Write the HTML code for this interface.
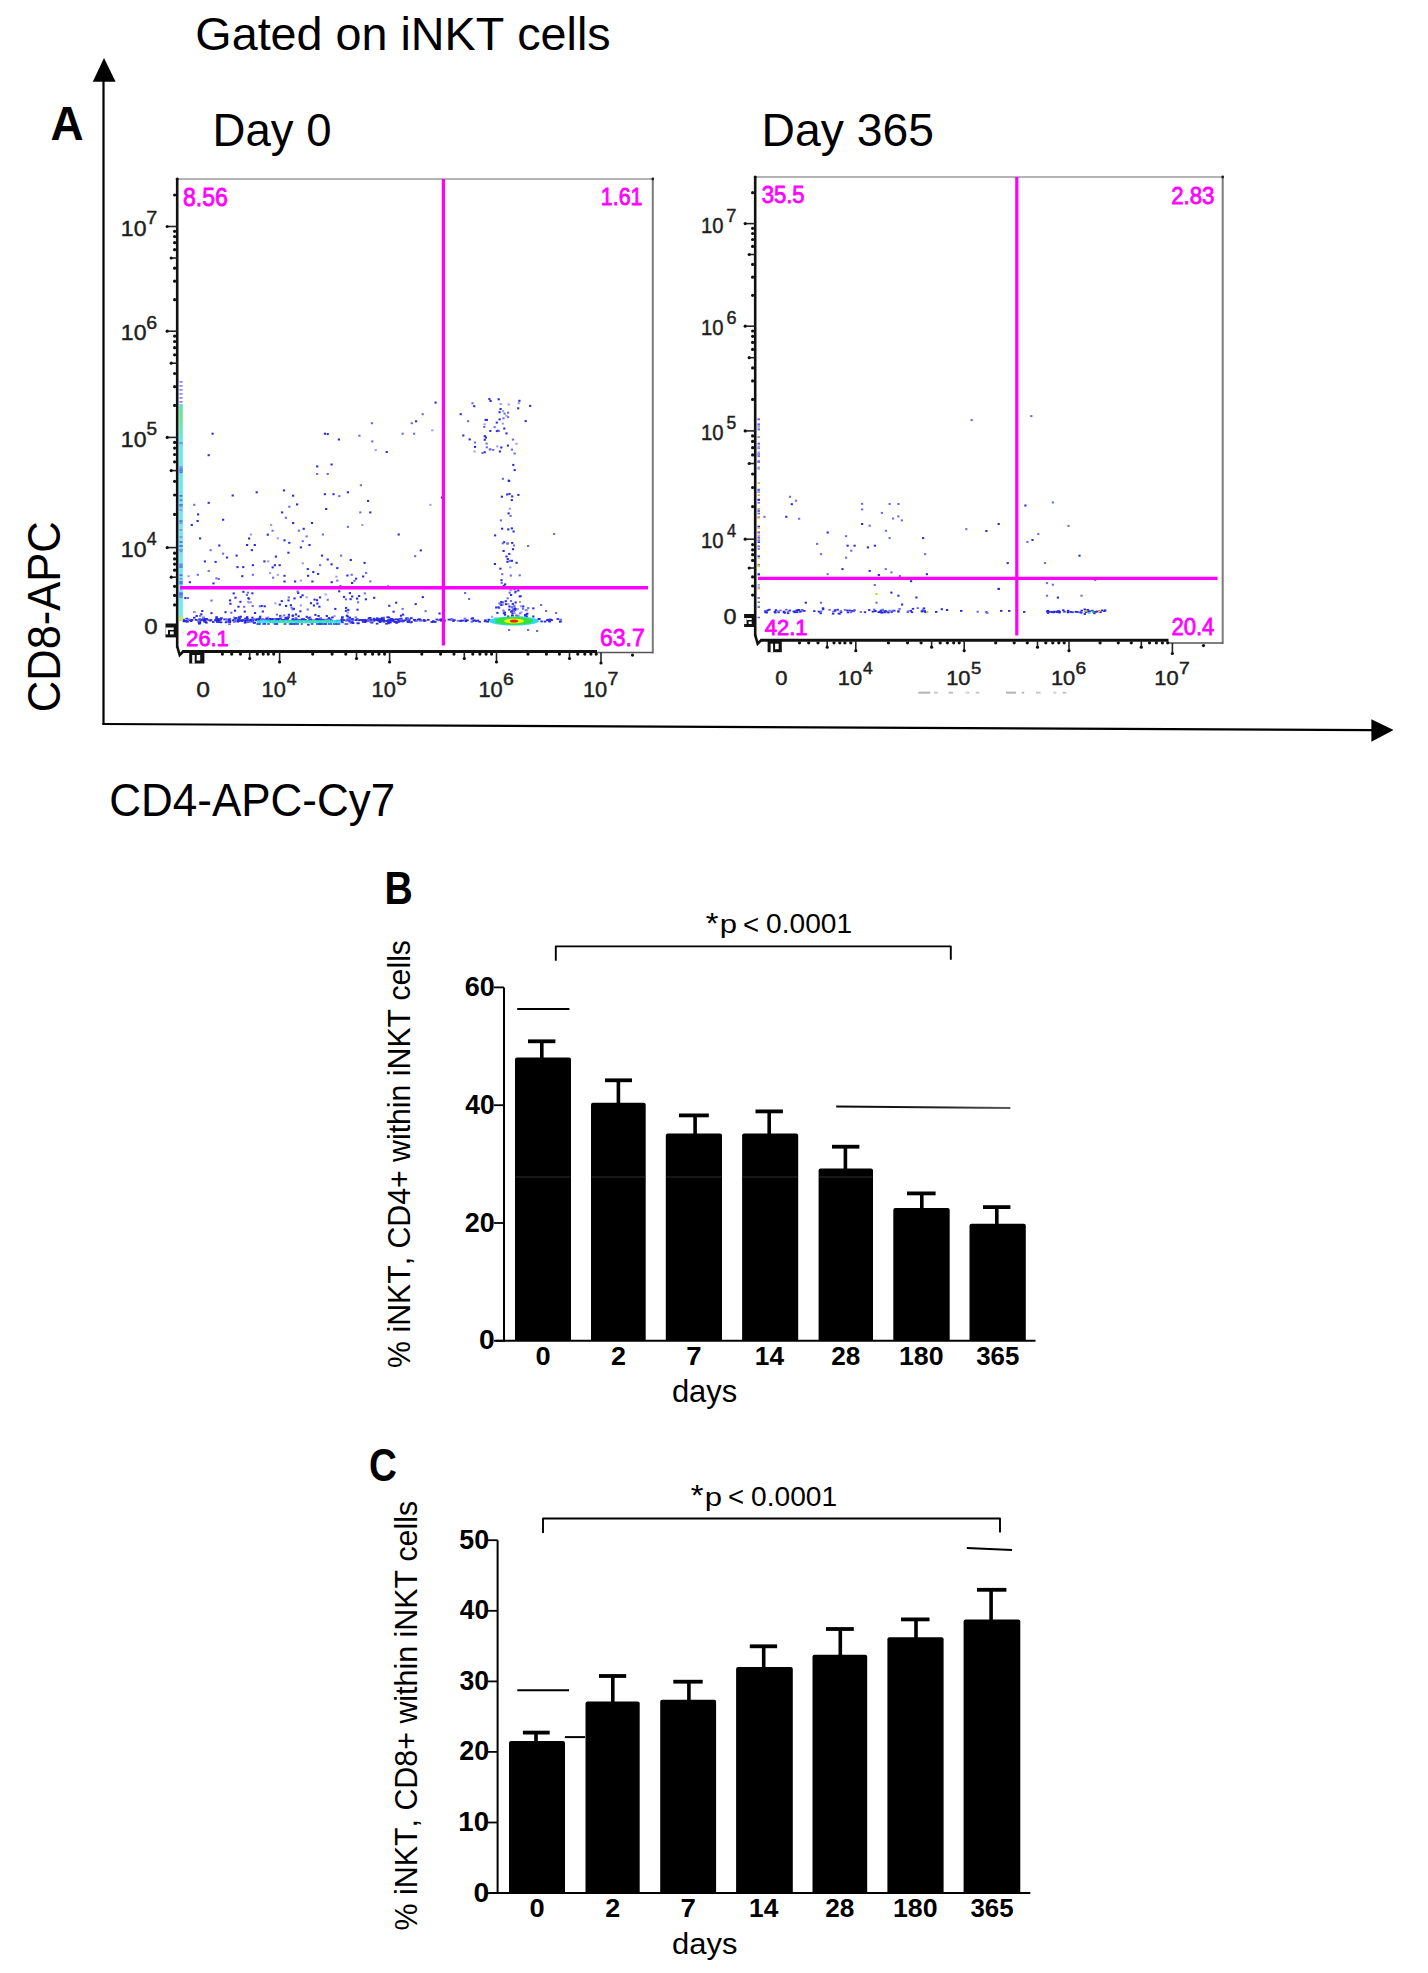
<!DOCTYPE html>
<html><head><meta charset="utf-8"><title>iNKT cells figure</title>
<style>
html,body{margin:0;padding:0;background:#fff;}
body{width:1428px;height:1973px;overflow:hidden;}
svg{display:block;font-family:"Liberation Sans",sans-serif;font-kerning:none;}
text{font-kerning:none;}
</style></head>
<body>
<svg width="1428" height="1973" viewBox="0 0 1428 1973">
<defs>
<linearGradient id="vstrip" x1="0" y1="0" x2="0" y2="1">
<stop offset="0" stop-color="#70d8c8"/><stop offset="0.05" stop-color="#68e890"/><stop offset="0.12" stop-color="#68e8b8"/>
<stop offset="0.16" stop-color="#60e8f0"/><stop offset="0.8" stop-color="#70e8f4"/><stop offset="1" stop-color="#60f0f0"/>
</linearGradient>
<linearGradient id="sigB" gradientUnits="userSpaceOnUse" x1="836" y1="0" x2="1010" y2="0">
<stop offset="0" stop-color="#080808"/><stop offset="0.6" stop-color="#222"/><stop offset="1" stop-color="#5a5a5a"/></linearGradient>
<filter id="blur1" x="-20%" y="-50%" width="140%" height="200%"><feGaussianBlur stdDeviation="0.7"/></filter></defs>
<rect width="1428" height="1973" fill="#fff"/>
<text transform="translate(195.35,50.00) scale(1.0065,1)" font-size="46.40" font-weight="normal" fill="#000" >Gated on iNKT cells</text>
<text transform="translate(50.46,140.30) scale(0.9718,1)" font-size="47.24" font-weight="bold" fill="#000" >A</text>
<text transform="translate(212.57,145.70) scale(0.9787,1)" font-size="46.51" font-weight="normal" fill="#000" >Day 0</text>
<text transform="translate(761.60,145.50) scale(0.9886,1)" font-size="46.80" font-weight="normal" fill="#000" >Day 365</text>
<text transform="translate(59.50,712.21) rotate(-90) scale(0.9351,1)" font-size="46.55" font-weight="normal" fill="#000">CD8-APC</text>
<text transform="translate(109.37,816.20) scale(0.9447,1)" font-size="46.55" font-weight="normal" fill="#000" >CD4-APC-Cy7</text>
<line x1="103.5" y1="80" x2="103.5" y2="724.5" stroke="#000" stroke-width="2.2"/>
<polygon points="104,58 92.8,81.8 115.6,81.8" fill="#000"/>
<line x1="102.4" y1="724" x2="1373" y2="730.1" stroke="#000" stroke-width="2.2"/>
<polygon points="1371.4,719.2 1371.4,741.8 1393.6,730.1" fill="#000"/>
<line x1="177.2" y1="179" x2="652.8" y2="179" stroke="#9a9a9a" stroke-width="1.6"/>
<line x1="652.8" y1="179" x2="652.8" y2="653.5" stroke="#7a7a7a" stroke-width="2"/>
<circle cx="652.8" cy="179" r="1.4" fill="#222"/>
<circle cx="177.2" cy="179" r="1.5" fill="#111"/>
<line x1="597" y1="652.5" x2="652.8" y2="652.5" stroke="#555" stroke-width="1.6"/>
<line x1="182.2" y1="651.5" x2="597" y2="651.5" stroke="#111" stroke-width="3"/>
<line x1="177.2" y1="178.5" x2="177.2" y2="647.5" stroke="#111" stroke-width="2.6"/>
<line x1="167.2" y1="226.5" x2="177.2" y2="226.5" stroke="#222" stroke-width="1.6"/>
<circle cx="167.2" cy="226.5" r="1.6" fill="#111"/>
<line x1="167.2" y1="331.2" x2="177.2" y2="331.2" stroke="#222" stroke-width="1.6"/>
<circle cx="167.2" cy="331.2" r="1.6" fill="#111"/>
<line x1="167.2" y1="437.4" x2="177.2" y2="437.4" stroke="#222" stroke-width="1.6"/>
<circle cx="167.2" cy="437.4" r="1.6" fill="#111"/>
<line x1="167.2" y1="547.6" x2="177.2" y2="547.6" stroke="#222" stroke-width="1.6"/>
<circle cx="167.2" cy="547.6" r="1.6" fill="#111"/>
<circle cx="174.6" cy="299.7" r="1.6" fill="#111"/>
<circle cx="174.6" cy="281.2" r="1.6" fill="#111"/>
<circle cx="174.6" cy="268.2" r="1.6" fill="#111"/>
<line x1="171.2" y1="258.0" x2="177.2" y2="258.0" stroke="#222" stroke-width="1.6"/>
<circle cx="171.2" cy="258.0" r="1.6" fill="#111"/>
<circle cx="174.6" cy="249.7" r="1.6" fill="#111"/>
<circle cx="174.6" cy="242.7" r="1.6" fill="#111"/>
<circle cx="174.6" cy="236.6" r="1.6" fill="#111"/>
<circle cx="174.6" cy="231.3" r="1.6" fill="#111"/>
<circle cx="174.6" cy="405.4" r="1.6" fill="#111"/>
<circle cx="174.6" cy="386.7" r="1.6" fill="#111"/>
<circle cx="174.6" cy="373.5" r="1.6" fill="#111"/>
<line x1="171.2" y1="363.2" x2="177.2" y2="363.2" stroke="#222" stroke-width="1.6"/>
<circle cx="171.2" cy="363.2" r="1.6" fill="#111"/>
<circle cx="174.6" cy="354.8" r="1.6" fill="#111"/>
<circle cx="174.6" cy="347.7" r="1.6" fill="#111"/>
<circle cx="174.6" cy="341.5" r="1.6" fill="#111"/>
<circle cx="174.6" cy="336.1" r="1.6" fill="#111"/>
<circle cx="174.6" cy="514.4" r="1.6" fill="#111"/>
<circle cx="174.6" cy="495.0" r="1.6" fill="#111"/>
<circle cx="174.6" cy="481.3" r="1.6" fill="#111"/>
<line x1="171.2" y1="470.6" x2="177.2" y2="470.6" stroke="#222" stroke-width="1.6"/>
<circle cx="171.2" cy="470.6" r="1.6" fill="#111"/>
<circle cx="174.6" cy="461.8" r="1.6" fill="#111"/>
<circle cx="174.6" cy="454.5" r="1.6" fill="#111"/>
<circle cx="174.6" cy="448.1" r="1.6" fill="#111"/>
<circle cx="174.6" cy="442.4" r="1.6" fill="#111"/>
<circle cx="174.6" cy="195.0" r="1.6" fill="#111"/>
<circle cx="174.6" cy="553.2" r="1.6" fill="#111"/>
<circle cx="174.6" cy="558.9" r="1.6" fill="#111"/>
<circle cx="174.6" cy="564.1" r="1.6" fill="#111"/>
<circle cx="174.6" cy="570.2" r="1.6" fill="#111"/>
<circle cx="174.6" cy="586.3" r="1.6" fill="#111"/>
<circle cx="174.6" cy="595.4" r="1.6" fill="#111"/>
<circle cx="174.6" cy="604.9" r="1.6" fill="#111"/>
<line x1="171.2" y1="577.2" x2="177.2" y2="577.2" stroke="#222" stroke-width="1.6"/>
<circle cx="171.2" cy="577.2" r="1.6" fill="#111"/>
<rect x="165.5" y="623.5" width="11.699999999999989" height="13.899999999999977" fill="#111"/>
<rect x="168.0" y="627.5" width="5.699999999999989" height="2.4" fill="#fff"/>
<rect x="170.0" y="631.5" width="3.6999999999999886" height="2.9" fill="#fff"/>
<rect x="165.5" y="627.5" width="2.5" height="6.9" fill="#fff"/>
<path d="M177.2,646.5 L179.7,655.0 L183.2,651.5" fill="none" stroke="#111" stroke-width="2.6"/>
<line x1="279.6" y1="651.5" x2="279.6" y2="662.0" stroke="#222" stroke-width="1.6"/>
<circle cx="279.6" cy="662.0" r="1.6" fill="#111"/>
<line x1="389.6" y1="651.5" x2="389.6" y2="662.0" stroke="#222" stroke-width="1.6"/>
<circle cx="389.6" cy="662.0" r="1.6" fill="#111"/>
<line x1="496.5" y1="651.5" x2="496.5" y2="662.0" stroke="#222" stroke-width="1.6"/>
<circle cx="496.5" cy="662.0" r="1.6" fill="#111"/>
<line x1="601.0" y1="652.5" x2="601.0" y2="663.0" stroke="#222" stroke-width="1.6"/>
<circle cx="601.0" cy="663.0" r="1.6" fill="#111"/>
<circle cx="312.7" cy="654.1" r="1.6" fill="#111"/>
<circle cx="332.1" cy="654.1" r="1.6" fill="#111"/>
<circle cx="345.8" cy="654.1" r="1.6" fill="#111"/>
<line x1="356.5" y1="651.5" x2="356.5" y2="658.5" stroke="#222" stroke-width="1.6"/>
<circle cx="356.5" cy="658.5" r="1.6" fill="#111"/>
<circle cx="365.2" cy="654.1" r="1.6" fill="#111"/>
<circle cx="372.6" cy="654.1" r="1.6" fill="#111"/>
<circle cx="378.9" cy="654.1" r="1.6" fill="#111"/>
<circle cx="384.6" cy="654.1" r="1.6" fill="#111"/>
<circle cx="421.8" cy="654.1" r="1.6" fill="#111"/>
<circle cx="440.6" cy="654.1" r="1.6" fill="#111"/>
<circle cx="454.0" cy="654.1" r="1.6" fill="#111"/>
<line x1="464.3" y1="651.5" x2="464.3" y2="658.5" stroke="#222" stroke-width="1.6"/>
<circle cx="464.3" cy="658.5" r="1.6" fill="#111"/>
<circle cx="472.8" cy="654.1" r="1.6" fill="#111"/>
<circle cx="479.9" cy="654.1" r="1.6" fill="#111"/>
<circle cx="486.1" cy="654.1" r="1.6" fill="#111"/>
<circle cx="491.6" cy="654.1" r="1.6" fill="#111"/>
<circle cx="528.0" cy="654.1" r="1.6" fill="#111"/>
<circle cx="546.4" cy="654.1" r="1.6" fill="#111"/>
<circle cx="559.4" cy="654.1" r="1.6" fill="#111"/>
<line x1="569.5" y1="651.5" x2="569.5" y2="658.5" stroke="#222" stroke-width="1.6"/>
<circle cx="569.5" cy="658.5" r="1.6" fill="#111"/>
<circle cx="577.8" cy="654.1" r="1.6" fill="#111"/>
<circle cx="584.8" cy="654.1" r="1.6" fill="#111"/>
<circle cx="590.9" cy="654.1" r="1.6" fill="#111"/>
<circle cx="596.2" cy="654.1" r="1.6" fill="#111"/>
<circle cx="632.5" cy="655.1" r="1.6" fill="#111"/>
<circle cx="222.4" cy="654.1" r="1.6" fill="#111"/>
<circle cx="231.7" cy="654.1" r="1.6" fill="#111"/>
<circle cx="240.5" cy="654.1" r="1.6" fill="#111"/>
<circle cx="257.3" cy="654.1" r="1.6" fill="#111"/>
<circle cx="263.2" cy="654.1" r="1.6" fill="#111"/>
<circle cx="268.2" cy="654.1" r="1.6" fill="#111"/>
<circle cx="273.7" cy="654.1" r="1.6" fill="#111"/>
<line x1="249.7" y1="651.5" x2="249.7" y2="658.5" stroke="#222" stroke-width="1.6"/>
<circle cx="249.7" cy="658.5" r="1.6" fill="#111"/>
<rect x="189.2" y="651.5" width="15.200000000000017" height="12.0" fill="#111"/>
<rect x="192.2" y="655.0" width="2.5" height="8.5" fill="#fff"/>
<rect x="196.7" y="655.0" width="3.5" height="5.5" fill="#fff"/>
<line x1="755.2" y1="177" x2="1222.7" y2="177" stroke="#9a9a9a" stroke-width="1.6"/>
<line x1="1222.7" y1="177" x2="1222.7" y2="644" stroke="#7a7a7a" stroke-width="2"/>
<circle cx="1222.7" cy="177" r="1.4" fill="#222"/>
<circle cx="755.2" cy="177" r="1.5" fill="#111"/>
<line x1="1168.5" y1="643" x2="1222.7" y2="643" stroke="#555" stroke-width="1.6"/>
<line x1="760.2" y1="640.2" x2="1168.5" y2="640.2" stroke="#111" stroke-width="3"/>
<line x1="755.2" y1="176.5" x2="755.2" y2="636.2" stroke="#111" stroke-width="2.6"/>
<line x1="745.2" y1="223.6" x2="755.2" y2="223.6" stroke="#222" stroke-width="1.6"/>
<circle cx="745.2" cy="223.6" r="1.6" fill="#111"/>
<line x1="745.2" y1="326.2" x2="755.2" y2="326.2" stroke="#222" stroke-width="1.6"/>
<circle cx="745.2" cy="326.2" r="1.6" fill="#111"/>
<line x1="745.2" y1="430.9" x2="755.2" y2="430.9" stroke="#222" stroke-width="1.6"/>
<circle cx="745.2" cy="430.9" r="1.6" fill="#111"/>
<line x1="745.2" y1="539.2" x2="755.2" y2="539.2" stroke="#222" stroke-width="1.6"/>
<circle cx="745.2" cy="539.2" r="1.6" fill="#111"/>
<circle cx="752.6" cy="295.3" r="1.6" fill="#111"/>
<circle cx="752.6" cy="277.2" r="1.6" fill="#111"/>
<circle cx="752.6" cy="264.4" r="1.6" fill="#111"/>
<line x1="749.2" y1="254.5" x2="755.2" y2="254.5" stroke="#222" stroke-width="1.6"/>
<circle cx="749.2" cy="254.5" r="1.6" fill="#111"/>
<circle cx="752.6" cy="246.4" r="1.6" fill="#111"/>
<circle cx="752.6" cy="239.5" r="1.6" fill="#111"/>
<circle cx="752.6" cy="233.5" r="1.6" fill="#111"/>
<circle cx="752.6" cy="228.3" r="1.6" fill="#111"/>
<circle cx="752.6" cy="399.4" r="1.6" fill="#111"/>
<circle cx="752.6" cy="380.9" r="1.6" fill="#111"/>
<circle cx="752.6" cy="367.9" r="1.6" fill="#111"/>
<line x1="749.2" y1="357.7" x2="755.2" y2="357.7" stroke="#222" stroke-width="1.6"/>
<circle cx="749.2" cy="357.7" r="1.6" fill="#111"/>
<circle cx="752.6" cy="349.4" r="1.6" fill="#111"/>
<circle cx="752.6" cy="342.4" r="1.6" fill="#111"/>
<circle cx="752.6" cy="336.3" r="1.6" fill="#111"/>
<circle cx="752.6" cy="331.0" r="1.6" fill="#111"/>
<circle cx="752.6" cy="506.6" r="1.6" fill="#111"/>
<circle cx="752.6" cy="487.5" r="1.6" fill="#111"/>
<circle cx="752.6" cy="474.0" r="1.6" fill="#111"/>
<line x1="749.2" y1="463.5" x2="755.2" y2="463.5" stroke="#222" stroke-width="1.6"/>
<circle cx="749.2" cy="463.5" r="1.6" fill="#111"/>
<circle cx="752.6" cy="454.9" r="1.6" fill="#111"/>
<circle cx="752.6" cy="447.7" r="1.6" fill="#111"/>
<circle cx="752.6" cy="441.4" r="1.6" fill="#111"/>
<circle cx="752.6" cy="435.9" r="1.6" fill="#111"/>
<circle cx="752.6" cy="192.7" r="1.6" fill="#111"/>
<circle cx="752.6" cy="544.6" r="1.6" fill="#111"/>
<circle cx="752.6" cy="549.8" r="1.6" fill="#111"/>
<circle cx="752.6" cy="554.7" r="1.6" fill="#111"/>
<circle cx="752.6" cy="560.4" r="1.6" fill="#111"/>
<circle cx="752.6" cy="576.9" r="1.6" fill="#111"/>
<circle cx="752.6" cy="586.0" r="1.6" fill="#111"/>
<circle cx="752.6" cy="595.1" r="1.6" fill="#111"/>
<line x1="749.2" y1="568.0" x2="755.2" y2="568.0" stroke="#222" stroke-width="1.6"/>
<circle cx="749.2" cy="568.0" r="1.6" fill="#111"/>
<rect x="744.1" y="614" width="11.100000000000023" height="13" fill="#111"/>
<rect x="746.6" y="618" width="5.100000000000023" height="2.0" fill="#fff"/>
<rect x="748.6" y="621.5" width="3.1000000000000227" height="2.5" fill="#fff"/>
<rect x="744.1" y="618" width="2.5" height="6.0" fill="#fff"/>
<path d="M755.2,635.2 L757.7,643.7 L761.2,640.2" fill="none" stroke="#111" stroke-width="2.6"/>
<line x1="855.8" y1="640.2" x2="855.8" y2="650.7" stroke="#222" stroke-width="1.6"/>
<circle cx="855.8" cy="650.7" r="1.6" fill="#111"/>
<line x1="964.2" y1="640.2" x2="964.2" y2="650.7" stroke="#222" stroke-width="1.6"/>
<circle cx="964.2" cy="650.7" r="1.6" fill="#111"/>
<line x1="1069.0" y1="640.2" x2="1069.0" y2="650.7" stroke="#222" stroke-width="1.6"/>
<circle cx="1069.0" cy="650.7" r="1.6" fill="#111"/>
<line x1="1172.4" y1="643" x2="1172.4" y2="653.5" stroke="#222" stroke-width="1.6"/>
<circle cx="1172.4" cy="653.5" r="1.6" fill="#111"/>
<circle cx="888.4" cy="642.8" r="1.6" fill="#111"/>
<circle cx="907.5" cy="642.8" r="1.6" fill="#111"/>
<circle cx="921.1" cy="642.8" r="1.6" fill="#111"/>
<line x1="931.6" y1="640.2" x2="931.6" y2="647.2" stroke="#222" stroke-width="1.6"/>
<circle cx="931.6" cy="647.2" r="1.6" fill="#111"/>
<circle cx="940.2" cy="642.8" r="1.6" fill="#111"/>
<circle cx="947.4" cy="642.8" r="1.6" fill="#111"/>
<circle cx="953.7" cy="642.8" r="1.6" fill="#111"/>
<circle cx="959.2" cy="642.8" r="1.6" fill="#111"/>
<circle cx="995.7" cy="642.8" r="1.6" fill="#111"/>
<circle cx="1014.2" cy="642.8" r="1.6" fill="#111"/>
<circle cx="1027.3" cy="642.8" r="1.6" fill="#111"/>
<line x1="1037.5" y1="640.2" x2="1037.5" y2="647.2" stroke="#222" stroke-width="1.6"/>
<circle cx="1037.5" cy="647.2" r="1.6" fill="#111"/>
<circle cx="1045.8" cy="642.8" r="1.6" fill="#111"/>
<circle cx="1052.8" cy="642.8" r="1.6" fill="#111"/>
<circle cx="1058.8" cy="642.8" r="1.6" fill="#111"/>
<circle cx="1064.2" cy="642.8" r="1.6" fill="#111"/>
<circle cx="1100.1" cy="642.8" r="1.6" fill="#111"/>
<circle cx="1118.3" cy="642.8" r="1.6" fill="#111"/>
<circle cx="1131.3" cy="642.8" r="1.6" fill="#111"/>
<line x1="1141.3" y1="640.2" x2="1141.3" y2="647.2" stroke="#222" stroke-width="1.6"/>
<circle cx="1141.3" cy="647.2" r="1.6" fill="#111"/>
<circle cx="1149.5" cy="642.8" r="1.6" fill="#111"/>
<circle cx="1156.4" cy="642.8" r="1.6" fill="#111"/>
<circle cx="1162.4" cy="642.8" r="1.6" fill="#111"/>
<circle cx="1167.7" cy="642.8" r="1.6" fill="#111"/>
<circle cx="1203.5" cy="645.6" r="1.6" fill="#111"/>
<circle cx="799.5" cy="642.8" r="1.6" fill="#111"/>
<circle cx="808.7" cy="642.8" r="1.6" fill="#111"/>
<circle cx="818.0" cy="642.8" r="1.6" fill="#111"/>
<circle cx="834.0" cy="642.8" r="1.6" fill="#111"/>
<circle cx="839.8" cy="642.8" r="1.6" fill="#111"/>
<circle cx="844.9" cy="642.8" r="1.6" fill="#111"/>
<circle cx="850.8" cy="642.8" r="1.6" fill="#111"/>
<line x1="827.2" y1="640.2" x2="827.2" y2="647.2" stroke="#222" stroke-width="1.6"/>
<circle cx="827.2" cy="647.2" r="1.6" fill="#111"/>
<rect x="767.6" y="640.2" width="14.199999999999932" height="12.0" fill="#111"/>
<rect x="770.6" y="643.7" width="2.5" height="8.5" fill="#fff"/>
<rect x="775.1" y="643.7" width="3.5" height="5.5" fill="#fff"/>
<text transform="translate(120.84,235.70) scale(1.0305,1)" font-size="22.38" font-weight="normal" fill="#1e1e1e" stroke="#1e1e1e" stroke-width="0.45">10</text><text transform="translate(146.18,224.30) scale(1.0810,1)" font-size="18.31" font-weight="normal" fill="#1e1e1e" stroke="#1e1e1e" stroke-width="0.45">7</text>
<text transform="translate(120.84,340.40) scale(1.0305,1)" font-size="22.38" font-weight="normal" fill="#1e1e1e" stroke="#1e1e1e" stroke-width="0.45">10</text><text transform="translate(146.21,329.00) scale(1.0809,1)" font-size="18.05" font-weight="normal" fill="#1e1e1e" stroke="#1e1e1e" stroke-width="0.45">6</text>
<text transform="translate(120.84,446.60) scale(1.0305,1)" font-size="22.38" font-weight="normal" fill="#1e1e1e" stroke="#1e1e1e" stroke-width="0.45">10</text><text transform="translate(146.44,435.20) scale(1.0365,1)" font-size="18.31" font-weight="normal" fill="#1e1e1e" stroke="#1e1e1e" stroke-width="0.45">5</text>
<text transform="translate(120.84,556.80) scale(1.0305,1)" font-size="22.38" font-weight="normal" fill="#1e1e1e" stroke="#1e1e1e" stroke-width="0.45">10</text><text transform="translate(146.79,545.40) scale(0.9752,1)" font-size="18.31" font-weight="normal" fill="#1e1e1e" stroke="#1e1e1e" stroke-width="0.45">4</text>
<text transform="translate(144.36,633.70) scale(1.0837,1)" font-size="22.20" font-weight="normal" fill="#1e1e1e" stroke="#1e1e1e" stroke-width="0.45">0</text>
<text transform="translate(700.96,232.70) scale(0.9292,1)" font-size="21.80" font-weight="normal" fill="#1e1e1e" stroke="#1e1e1e" stroke-width="0.45">10</text><text transform="translate(726.36,221.80) scale(0.9891,1)" font-size="18.46" font-weight="normal" fill="#1e1e1e" stroke="#1e1e1e" stroke-width="0.45">7</text>
<text transform="translate(700.96,335.30) scale(0.9292,1)" font-size="21.80" font-weight="normal" fill="#1e1e1e" stroke="#1e1e1e" stroke-width="0.45">10</text><text transform="translate(726.39,324.40) scale(0.9890,1)" font-size="18.19" font-weight="normal" fill="#1e1e1e" stroke="#1e1e1e" stroke-width="0.45">6</text>
<text transform="translate(700.96,440.00) scale(0.9292,1)" font-size="21.80" font-weight="normal" fill="#1e1e1e" stroke="#1e1e1e" stroke-width="0.45">10</text><text transform="translate(726.60,429.10) scale(0.9483,1)" font-size="18.46" font-weight="normal" fill="#1e1e1e" stroke="#1e1e1e" stroke-width="0.45">5</text>
<text transform="translate(700.96,548.30) scale(0.9292,1)" font-size="21.80" font-weight="normal" fill="#1e1e1e" stroke="#1e1e1e" stroke-width="0.45">10</text><text transform="translate(726.92,537.40) scale(0.8923,1)" font-size="18.46" font-weight="normal" fill="#1e1e1e" stroke="#1e1e1e" stroke-width="0.45">4</text>
<text transform="translate(723.48,624.30) scale(1.0555,1)" font-size="22.20" font-weight="normal" fill="#1e1e1e" stroke="#1e1e1e" stroke-width="0.45">0</text>
<text transform="translate(261.53,697.10) scale(0.9705,1)" font-size="22.53" font-weight="normal" fill="#1e1e1e" stroke="#1e1e1e" stroke-width="0.45">10</text><text transform="translate(286.69,684.50) scale(1.0042,1)" font-size="17.59" font-weight="normal" fill="#1e1e1e" stroke="#1e1e1e" stroke-width="0.45">4</text>
<text transform="translate(371.53,697.10) scale(0.9705,1)" font-size="22.53" font-weight="normal" fill="#1e1e1e" stroke="#1e1e1e" stroke-width="0.45">10</text><text transform="translate(396.35,684.50) scale(1.0673,1)" font-size="17.59" font-weight="normal" fill="#1e1e1e" stroke="#1e1e1e" stroke-width="0.45">5</text>
<text transform="translate(478.43,697.10) scale(0.9705,1)" font-size="22.53" font-weight="normal" fill="#1e1e1e" stroke="#1e1e1e" stroke-width="0.45">10</text><text transform="translate(503.02,684.50) scale(1.1130,1)" font-size="17.33" font-weight="normal" fill="#1e1e1e" stroke="#1e1e1e" stroke-width="0.45">6</text>
<text transform="translate(582.93,697.10) scale(0.9705,1)" font-size="22.53" font-weight="normal" fill="#1e1e1e" stroke="#1e1e1e" stroke-width="0.45">10</text><text transform="translate(607.50,684.50) scale(1.1132,1)" font-size="17.59" font-weight="normal" fill="#1e1e1e" stroke="#1e1e1e" stroke-width="0.45">7</text>
<text transform="translate(196.24,697.10) scale(1.0840,1)" font-size="22.77" font-weight="normal" fill="#1e1e1e" stroke="#1e1e1e" stroke-width="0.45">0</text>
<text transform="translate(837.73,685.20) scale(1.0446,1)" font-size="20.93" font-weight="normal" fill="#1e1e1e" stroke="#1e1e1e" stroke-width="0.45">10</text><text transform="translate(862.90,674.00) scale(1.0727,1)" font-size="16.28" font-weight="normal" fill="#1e1e1e" stroke="#1e1e1e" stroke-width="0.45">4</text>
<text transform="translate(946.13,685.20) scale(1.0446,1)" font-size="20.93" font-weight="normal" fill="#1e1e1e" stroke="#1e1e1e" stroke-width="0.45">10</text><text transform="translate(970.96,674.00) scale(1.1401,1)" font-size="16.28" font-weight="normal" fill="#1e1e1e" stroke="#1e1e1e" stroke-width="0.45">5</text>
<text transform="translate(1050.93,685.20) scale(1.0446,1)" font-size="20.93" font-weight="normal" fill="#1e1e1e" stroke="#1e1e1e" stroke-width="0.45">10</text><text transform="translate(1075.53,674.00) scale(1.1890,1)" font-size="16.04" font-weight="normal" fill="#1e1e1e" stroke="#1e1e1e" stroke-width="0.45">6</text>
<text transform="translate(1154.33,685.20) scale(1.0446,1)" font-size="20.93" font-weight="normal" fill="#1e1e1e" stroke="#1e1e1e" stroke-width="0.45">10</text><text transform="translate(1178.91,674.00) scale(1.1891,1)" font-size="16.28" font-weight="normal" fill="#1e1e1e" stroke="#1e1e1e" stroke-width="0.45">7</text>
<text transform="translate(775.14,684.80) scale(1.1114,1)" font-size="19.76" font-weight="normal" fill="#1e1e1e" stroke="#1e1e1e" stroke-width="0.45">0</text>
<g><rect x="918.3" y="691.7" width="12.0" height="2" fill="#b4b4b4"/><rect x="934" y="691.7" width="3.8" height="2" fill="#c8c8c8"/><rect x="948.5" y="691.7" width="4.5" height="2" fill="#c0c0c0"/><rect x="965.6" y="691.7" width="3.8" height="2" fill="#d0d0d0"/><rect x="975.7" y="691.7" width="3.7" height="2" fill="#c8c8c8"/><rect x="1006" y="691.7" width="10.0" height="2" fill="#b4b4b4"/><rect x="1021.7" y="691.7" width="2.5" height="2" fill="#bcbcbc"/><rect x="1036" y="691.7" width="4.6" height="2" fill="#c8c8c8"/><rect x="1053.2" y="691.7" width="3.2" height="2" fill="#d0d0d0"/><rect x="1062.7" y="691.7" width="3.7" height="2" fill="#c8c8c8"/></g>
<g><rect x="211.5" y="432.7" width="2.2" height="2.0" fill="#2a2ae0"/><rect x="207.6" y="454.2" width="2.2" height="2.0" fill="#2a2ae0"/><rect x="193.2" y="503.8" width="2.2" height="2.0" fill="#6a6aee"/><rect x="207.6" y="501.8" width="2.2" height="2.0" fill="#2a2ae0"/><rect x="197.0" y="513.4" width="2.2" height="2.0" fill="#2a2ae0"/><rect x="196.5" y="520.0" width="2.2" height="2.0" fill="#2a2ae0"/><rect x="190.7" y="524.0" width="2.2" height="2.0" fill="#2a2ae0"/><rect x="199.0" y="537.4" width="2.2" height="2.0" fill="#2a2ae0"/><rect x="222.0" y="518.7" width="2.2" height="2.0" fill="#2a2ae0"/><rect x="231.6" y="494.5" width="2.2" height="2.0" fill="#2a2ae0"/><rect x="255.6" y="491.3" width="2.2" height="2.0" fill="#2a2ae0"/><rect x="282.9" y="489.4" width="2.2" height="2.0" fill="#2a2ae0"/><rect x="292.0" y="494.7" width="2.2" height="2.0" fill="#2a2ae0"/><rect x="288.2" y="505.7" width="2.2" height="2.0" fill="#6a6aee"/><rect x="296.0" y="503.4" width="2.2" height="2.0" fill="#2a2ae0"/><rect x="281.0" y="511.4" width="2.2" height="2.0" fill="#2a2ae0"/><rect x="284.8" y="516.8" width="2.2" height="2.0" fill="#6a6aee"/><rect x="270.0" y="524.0" width="2.2" height="2.0" fill="#9c9cf2"/><rect x="271.5" y="529.7" width="2.2" height="2.0" fill="#6a6aee"/><rect x="266.7" y="533.7" width="2.2" height="2.0" fill="#2a2ae0"/><rect x="249.9" y="533.5" width="2.2" height="2.0" fill="#9c9cf2"/><rect x="248.0" y="537.5" width="2.2" height="2.0" fill="#2a2ae0"/><rect x="276.7" y="537.3" width="2.2" height="2.0" fill="#9c9cf2"/><rect x="283.4" y="539.3" width="2.2" height="2.0" fill="#2a2ae0"/><rect x="288.2" y="541.8" width="2.2" height="2.0" fill="#2a2ae0"/><rect x="287.3" y="551.7" width="2.2" height="2.0" fill="#2a2ae0"/><rect x="292.0" y="522.0" width="2.2" height="2.0" fill="#2a2ae0"/><rect x="297.8" y="529.7" width="2.2" height="2.0" fill="#6a6aee"/><rect x="302.6" y="527.8" width="2.2" height="2.0" fill="#2a2ae0"/><rect x="305.5" y="535.4" width="2.2" height="2.0" fill="#6a6aee"/><rect x="301.7" y="540.2" width="2.2" height="2.0" fill="#6a6aee"/><rect x="308.4" y="544.0" width="2.2" height="2.0" fill="#2a2ae0"/><rect x="299.8" y="546.4" width="2.2" height="2.0" fill="#2a2ae0"/><rect x="310.9" y="522.0" width="2.2" height="2.0" fill="#2a2ae0"/><rect x="316.1" y="465.4" width="2.2" height="2.0" fill="#2a2ae0"/><rect x="330.5" y="463.5" width="2.2" height="2.0" fill="#2a2ae0"/><rect x="326.6" y="473.0" width="2.2" height="2.0" fill="#6a6aee"/><rect x="323.8" y="493.2" width="2.2" height="2.0" fill="#2a2ae0"/><rect x="332.4" y="493.2" width="2.2" height="2.0" fill="#2a2ae0"/><rect x="338.2" y="495.1" width="2.2" height="2.0" fill="#6a6aee"/><rect x="346.8" y="491.3" width="2.2" height="2.0" fill="#2a2ae0"/><rect x="325.1" y="508.0" width="2.2" height="2.0" fill="#2a2ae0"/><rect x="321.8" y="533.5" width="2.2" height="2.0" fill="#6a6aee"/><rect x="359.8" y="484.2" width="2.2" height="2.0" fill="#6a6aee"/><rect x="367.0" y="499.9" width="2.2" height="2.0" fill="#2a2ae0"/><rect x="359.2" y="511.4" width="2.2" height="2.0" fill="#6a6aee"/><rect x="369.2" y="511.4" width="2.2" height="2.0" fill="#2a2ae0"/><rect x="361.2" y="524.0" width="2.2" height="2.0" fill="#9c9cf2"/><rect x="346.8" y="525.8" width="2.2" height="2.0" fill="#6a6aee"/><rect x="397.6" y="533.5" width="2.2" height="2.0" fill="#2a2ae0"/><rect x="429.3" y="503.8" width="2.2" height="2.0" fill="#9c9cf2"/><rect x="440.8" y="496.5" width="2.2" height="2.0" fill="#2a2ae0"/><rect x="419.7" y="549.4" width="2.2" height="2.0" fill="#2a2ae0"/><rect x="414.0" y="555.2" width="2.2" height="2.0" fill="#6a6aee"/><rect x="323.8" y="432.7" width="2.2" height="2.0" fill="#2a2ae0"/><rect x="326.6" y="433.1" width="2.2" height="2.0" fill="#2a2ae0"/><rect x="337.8" y="438.5" width="2.2" height="2.0" fill="#2a2ae0"/><rect x="358.3" y="434.7" width="2.2" height="2.0" fill="#6a6aee"/><rect x="370.8" y="422.2" width="2.2" height="2.0" fill="#6a6aee"/><rect x="371.2" y="440.4" width="2.2" height="2.0" fill="#6a6aee"/><rect x="374.6" y="449.1" width="2.2" height="2.0" fill="#9c9cf2"/><rect x="385.6" y="451.0" width="2.2" height="2.0" fill="#2a2ae0"/><rect x="401.5" y="432.7" width="2.2" height="2.0" fill="#6a6aee"/><rect x="413.0" y="432.7" width="2.2" height="2.0" fill="#6a6aee"/><rect x="410.7" y="422.2" width="2.2" height="2.0" fill="#6a6aee"/><rect x="415.0" y="420.3" width="2.2" height="2.0" fill="#2a2ae0"/><rect x="421.6" y="413.2" width="2.2" height="2.0" fill="#6a6aee"/><rect x="431.2" y="429.3" width="2.2" height="2.0" fill="#9c9cf2"/><rect x="434.5" y="401.6" width="2.2" height="2.0" fill="#2a2ae0"/><rect x="316.0" y="473.0" width="2.2" height="2.0" fill="#6a6aee"/><rect x="203.8" y="560.4" width="2.2" height="2.0" fill="#2a2ae0"/><rect x="207.6" y="570.0" width="2.2" height="2.0" fill="#6a6aee"/><rect x="196.7" y="573.8" width="2.2" height="2.0" fill="#6a6aee"/><rect x="187.5" y="575.2" width="2.2" height="2.0" fill="#9c9cf2"/><rect x="222.0" y="552.7" width="2.2" height="2.0" fill="#6a6aee"/><rect x="225.9" y="556.5" width="2.2" height="2.0" fill="#2a2ae0"/><rect x="218.2" y="544.5" width="2.2" height="2.0" fill="#2a2ae0"/><rect x="209.5" y="549.2" width="2.2" height="2.0" fill="#6a6aee"/><rect x="235.5" y="554.6" width="2.2" height="2.0" fill="#2a2ae0"/><rect x="236.4" y="566.1" width="2.2" height="2.0" fill="#2a2ae0"/><rect x="242.2" y="566.1" width="2.2" height="2.0" fill="#2a2ae0"/><rect x="241.2" y="575.2" width="2.2" height="2.0" fill="#2a2ae0"/><rect x="251.8" y="564.2" width="2.2" height="2.0" fill="#2a2ae0"/><rect x="251.8" y="573.8" width="2.2" height="2.0" fill="#6a6aee"/><rect x="246.0" y="544.0" width="2.2" height="2.0" fill="#2a2ae0"/><rect x="253.7" y="544.0" width="2.2" height="2.0" fill="#2a2ae0"/><rect x="263.3" y="560.4" width="2.2" height="2.0" fill="#2a2ae0"/><rect x="267.1" y="560.4" width="2.2" height="2.0" fill="#9c9cf2"/><rect x="273.8" y="564.2" width="2.2" height="2.0" fill="#2a2ae0"/><rect x="278.6" y="564.2" width="2.2" height="2.0" fill="#2a2ae0"/><rect x="274.8" y="555.6" width="2.2" height="2.0" fill="#2a2ae0"/><rect x="269.0" y="571.9" width="2.2" height="2.0" fill="#9c9cf2"/><rect x="272.0" y="576.7" width="2.2" height="2.0" fill="#6a6aee"/><rect x="276.7" y="573.8" width="2.2" height="2.0" fill="#9c9cf2"/><rect x="283.4" y="574.8" width="2.2" height="2.0" fill="#2a2ae0"/><rect x="283.4" y="580.5" width="2.2" height="2.0" fill="#2a2ae0"/><rect x="294.0" y="580.5" width="2.2" height="2.0" fill="#2a2ae0"/><rect x="299.8" y="579.6" width="2.2" height="2.0" fill="#9c9cf2"/><rect x="301.7" y="562.3" width="2.2" height="2.0" fill="#9c9cf2"/><rect x="306.7" y="568.1" width="2.2" height="2.0" fill="#2a2ae0"/><rect x="307.0" y="574.8" width="2.2" height="2.0" fill="#2a2ae0"/><rect x="311.3" y="580.5" width="2.2" height="2.0" fill="#2a2ae0"/><rect x="312.2" y="571.0" width="2.2" height="2.0" fill="#2a2ae0"/><rect x="317.0" y="572.9" width="2.2" height="2.0" fill="#2a2ae0"/><rect x="319.0" y="564.2" width="2.2" height="2.0" fill="#6a6aee"/><rect x="320.9" y="554.6" width="2.2" height="2.0" fill="#2a2ae0"/><rect x="326.6" y="558.5" width="2.2" height="2.0" fill="#2a2ae0"/><rect x="330.5" y="563.3" width="2.2" height="2.0" fill="#2a2ae0"/><rect x="336.2" y="567.1" width="2.2" height="2.0" fill="#2a2ae0"/><rect x="340.0" y="554.6" width="2.2" height="2.0" fill="#6a6aee"/><rect x="335.3" y="575.7" width="2.2" height="2.0" fill="#9c9cf2"/><rect x="336.2" y="579.6" width="2.2" height="2.0" fill="#6a6aee"/><rect x="349.7" y="559.0" width="2.2" height="2.0" fill="#2a2ae0"/><rect x="350.6" y="573.8" width="2.2" height="2.0" fill="#6a6aee"/><rect x="365.0" y="571.9" width="2.2" height="2.0" fill="#6a6aee"/><rect x="351.0" y="582.0" width="2.2" height="2.0" fill="#2a2ae0"/><rect x="387.0" y="584.8" width="2.2" height="2.0" fill="#9c9cf2"/><rect x="330.6" y="581.2" width="2.2" height="2.0" fill="#2a2ae0"/><rect x="214.5" y="560.9" width="2.2" height="2.0" fill="#2a2ae0"/><rect x="188.8" y="581.2" width="2.2" height="2.0" fill="#2a2ae0"/><rect x="271.6" y="566.4" width="2.2" height="2.0" fill="#2a2ae0"/><rect x="346.3" y="574.5" width="2.2" height="2.0" fill="#2a2ae0"/><rect x="215.4" y="577.3" width="2.2" height="2.0" fill="#6a6aee"/><rect x="369.2" y="580.4" width="2.2" height="2.0" fill="#6a6aee"/><rect x="250.8" y="549.1" width="2.2" height="2.0" fill="#2a2ae0"/><rect x="363.5" y="561.9" width="2.2" height="2.0" fill="#2a2ae0"/><rect x="353.3" y="579.9" width="2.2" height="2.0" fill="#6a6aee"/><rect x="355.0" y="577.7" width="2.2" height="2.0" fill="#2a2ae0"/><rect x="217.6" y="578.0" width="2.2" height="2.0" fill="#6a6aee"/><rect x="362.0" y="575.5" width="2.2" height="2.0" fill="#2a2ae0"/><rect x="212.4" y="582.4" width="2.2" height="2.0" fill="#2a2ae0"/><rect x="339.4" y="585.3" width="2.2" height="2.0" fill="#2a2ae0"/><rect x="324.6" y="593.5" width="2.2" height="2.0" fill="#9c9cf2"/><rect x="294.9" y="613.5" width="2.2" height="2.0" fill="#2a2ae0"/><rect x="248.0" y="597.9" width="2.2" height="2.0" fill="#6a6aee"/><rect x="249.9" y="601.3" width="2.2" height="2.0" fill="#9c9cf2"/><rect x="274.3" y="602.4" width="2.2" height="2.0" fill="#9c9cf2"/><rect x="291.5" y="614.8" width="2.2" height="2.0" fill="#2a2ae0"/><rect x="326.6" y="598.8" width="2.2" height="2.0" fill="#6a6aee"/><rect x="299.7" y="604.4" width="2.2" height="2.0" fill="#9c9cf2"/><rect x="297.1" y="592.0" width="2.2" height="2.0" fill="#2a2ae0"/><rect x="239.7" y="615.7" width="2.2" height="2.0" fill="#2a2ae0"/><rect x="438.4" y="612.5" width="2.2" height="2.0" fill="#2a2ae0"/><rect x="316.0" y="599.2" width="2.2" height="2.0" fill="#2a2ae0"/><rect x="296.6" y="590.5" width="2.2" height="2.0" fill="#6a6aee"/><rect x="386.4" y="616.2" width="2.2" height="2.0" fill="#2a2ae0"/><rect x="193.2" y="611.0" width="2.2" height="2.0" fill="#2a2ae0"/><rect x="291.9" y="614.6" width="2.2" height="2.0" fill="#2a2ae0"/><rect x="363.7" y="592.4" width="2.2" height="2.0" fill="#6a6aee"/><rect x="346.7" y="611.6" width="2.2" height="2.0" fill="#9c9cf2"/><rect x="200.2" y="613.3" width="2.2" height="2.0" fill="#2a2ae0"/><rect x="325.7" y="615.0" width="2.2" height="2.0" fill="#2a2ae0"/><rect x="318.9" y="596.4" width="2.2" height="2.0" fill="#2a2ae0"/><rect x="261.7" y="610.5" width="2.2" height="2.0" fill="#2a2ae0"/><rect x="228.9" y="599.4" width="2.2" height="2.0" fill="#2a2ae0"/><rect x="210.4" y="612.1" width="2.2" height="2.0" fill="#2a2ae0"/><rect x="287.4" y="599.4" width="2.2" height="2.0" fill="#2a2ae0"/><rect x="201.2" y="610.0" width="2.2" height="2.0" fill="#2a2ae0"/><rect x="356.0" y="597.6" width="2.2" height="2.0" fill="#2a2ae0"/><rect x="301.5" y="594.3" width="2.2" height="2.0" fill="#2a2ae0"/><rect x="246.1" y="616.1" width="2.2" height="2.0" fill="#2a2ae0"/><rect x="184.3" y="597.1" width="2.2" height="2.0" fill="#2a2ae0"/><rect x="243.1" y="605.8" width="2.2" height="2.0" fill="#6a6aee"/><rect x="344.9" y="609.8" width="2.2" height="2.0" fill="#2a2ae0"/><rect x="242.3" y="590.8" width="2.2" height="2.0" fill="#2a2ae0"/><rect x="345.0" y="606.9" width="2.2" height="2.0" fill="#2a2ae0"/><rect x="312.8" y="604.5" width="2.2" height="2.0" fill="#2a2ae0"/><rect x="373.1" y="596.8" width="2.2" height="2.0" fill="#2a2ae0"/><rect x="306.6" y="608.5" width="2.2" height="2.0" fill="#6a6aee"/><rect x="348.8" y="592.1" width="2.2" height="2.0" fill="#2a2ae0"/><rect x="356.4" y="608.7" width="2.2" height="2.0" fill="#2a2ae0"/><rect x="316.3" y="602.5" width="2.2" height="2.0" fill="#2a2ae0"/><rect x="237.4" y="605.7" width="2.2" height="2.0" fill="#2a2ae0"/><rect x="314.3" y="613.9" width="2.2" height="2.0" fill="#2a2ae0"/><rect x="414.6" y="603.1" width="2.2" height="2.0" fill="#2a2ae0"/><rect x="309.9" y="602.2" width="2.2" height="2.0" fill="#2a2ae0"/><rect x="284.4" y="617.0" width="2.2" height="2.0" fill="#2a2ae0"/><rect x="293.4" y="597.4" width="2.2" height="2.0" fill="#2a2ae0"/><rect x="247.3" y="597.2" width="2.2" height="2.0" fill="#2a2ae0"/><rect x="279.3" y="615.8" width="2.2" height="2.0" fill="#6a6aee"/><rect x="345.8" y="614.7" width="2.2" height="2.0" fill="#2a2ae0"/><rect x="299.3" y="610.3" width="2.2" height="2.0" fill="#2a2ae0"/><rect x="195.6" y="615.0" width="2.2" height="2.0" fill="#2a2ae0"/><rect x="260.6" y="605.0" width="2.2" height="2.0" fill="#2a2ae0"/><rect x="232.6" y="592.4" width="2.2" height="2.0" fill="#2a2ae0"/><rect x="289.8" y="604.2" width="2.2" height="2.0" fill="#2a2ae0"/><rect x="247.1" y="600.8" width="2.2" height="2.0" fill="#9c9cf2"/><rect x="402.0" y="613.6" width="2.2" height="2.0" fill="#2a2ae0"/><rect x="193.2" y="611.1" width="2.2" height="2.0" fill="#9c9cf2"/><rect x="349.5" y="598.2" width="2.2" height="2.0" fill="#2a2ae0"/><rect x="347.2" y="608.9" width="2.2" height="2.0" fill="#2a2ae0"/><rect x="318.3" y="605.7" width="2.2" height="2.0" fill="#2a2ae0"/><rect x="338.1" y="590.3" width="2.2" height="2.0" fill="#2a2ae0"/><rect x="305.6" y="596.3" width="2.2" height="2.0" fill="#9c9cf2"/><rect x="364.8" y="598.3" width="2.2" height="2.0" fill="#2a2ae0"/><rect x="357.0" y="601.3" width="2.2" height="2.0" fill="#6a6aee"/><rect x="421.7" y="596.1" width="2.2" height="2.0" fill="#2a2ae0"/><rect x="291.5" y="608.4" width="2.2" height="2.0" fill="#6a6aee"/><rect x="259.1" y="615.7" width="2.2" height="2.0" fill="#2a2ae0"/><rect x="237.9" y="616.3" width="2.2" height="2.0" fill="#2a2ae0"/><rect x="424.5" y="610.2" width="2.2" height="2.0" fill="#6a6aee"/><rect x="280.7" y="600.1" width="2.2" height="2.0" fill="#2a2ae0"/><rect x="395.1" y="601.7" width="2.2" height="2.0" fill="#2a2ae0"/><rect x="279.2" y="614.8" width="2.2" height="2.0" fill="#2a2ae0"/><rect x="392.5" y="610.7" width="2.2" height="2.0" fill="#2a2ae0"/><rect x="199.1" y="614.8" width="2.2" height="2.0" fill="#6a6aee"/><rect x="346.6" y="615.5" width="2.2" height="2.0" fill="#2a2ae0"/><rect x="305.6" y="615.8" width="2.2" height="2.0" fill="#2a2ae0"/><rect x="247.8" y="601.6" width="2.2" height="2.0" fill="#9c9cf2"/><rect x="230.2" y="611.7" width="2.2" height="2.0" fill="#6a6aee"/><rect x="246.8" y="591.7" width="2.2" height="2.0" fill="#6a6aee"/><rect x="267.0" y="616.5" width="2.2" height="2.0" fill="#9c9cf2"/><rect x="251.3" y="592.3" width="2.2" height="2.0" fill="#2a2ae0"/><rect x="290.5" y="606.7" width="2.2" height="2.0" fill="#6a6aee"/><rect x="401.5" y="607.9" width="2.2" height="2.0" fill="#6a6aee"/><rect x="258.8" y="605.3" width="2.2" height="2.0" fill="#6a6aee"/><rect x="234.4" y="596.7" width="2.2" height="2.0" fill="#2a2ae0"/><rect x="285.2" y="616.8" width="2.2" height="2.0" fill="#2a2ae0"/><rect x="399.9" y="614.7" width="2.2" height="2.0" fill="#2a2ae0"/><rect x="333.5" y="615.1" width="2.2" height="2.0" fill="#9c9cf2"/><rect x="342.9" y="595.9" width="2.2" height="2.0" fill="#2a2ae0"/><rect x="351.1" y="595.5" width="2.2" height="2.0" fill="#2a2ae0"/><rect x="358.0" y="595.0" width="2.2" height="2.0" fill="#2a2ae0"/><rect x="388.2" y="604.8" width="2.2" height="2.0" fill="#2a2ae0"/><rect x="285.0" y="604.9" width="2.2" height="2.0" fill="#2a2ae0"/><rect x="263.6" y="605.3" width="2.2" height="2.0" fill="#2a2ae0"/><rect x="233.9" y="609.7" width="2.2" height="2.0" fill="#2a2ae0"/><rect x="287.8" y="613.8" width="2.2" height="2.0" fill="#2a2ae0"/><rect x="278.7" y="603.6" width="2.2" height="2.0" fill="#2a2ae0"/><rect x="317.5" y="615.0" width="2.2" height="2.0" fill="#2a2ae0"/><rect x="283.1" y="614.4" width="2.2" height="2.0" fill="#6a6aee"/><rect x="224.4" y="611.2" width="2.2" height="2.0" fill="#2a2ae0"/><rect x="239.3" y="600.8" width="2.2" height="2.0" fill="#2a2ae0"/><rect x="344.8" y="598.3" width="2.2" height="2.0" fill="#6a6aee"/><rect x="292.8" y="607.8" width="2.2" height="2.0" fill="#2a2ae0"/><rect x="243.7" y="610.6" width="2.2" height="2.0" fill="#2a2ae0"/><rect x="229.3" y="602.8" width="2.2" height="2.0" fill="#2a2ae0"/><rect x="280.5" y="615.7" width="2.2" height="2.0" fill="#9c9cf2"/><rect x="233.0" y="616.5" width="2.2" height="2.0" fill="#9c9cf2"/><rect x="253.9" y="612.0" width="2.2" height="2.0" fill="#2a2ae0"/><rect x="313.5" y="598.6" width="2.2" height="2.0" fill="#2a2ae0"/><rect x="275.8" y="613.6" width="2.2" height="2.0" fill="#6a6aee"/><rect x="251.3" y="616.7" width="2.2" height="2.0" fill="#2a2ae0"/><rect x="334.2" y="607.9" width="2.2" height="2.0" fill="#2a2ae0"/><rect x="210.4" y="599.6" width="2.2" height="2.0" fill="#6a6aee"/><rect x="245.8" y="594.0" width="2.2" height="2.0" fill="#6a6aee"/><rect x="297.5" y="615.3" width="2.2" height="2.0" fill="#2a2ae0"/><rect x="287.7" y="596.4" width="2.2" height="2.0" fill="#6a6aee"/><rect x="299.7" y="596.1" width="2.2" height="2.0" fill="#2a2ae0"/><rect x="251.6" y="605.0" width="2.2" height="2.0" fill="#6a6aee"/><rect x="186.9" y="597.0" width="2.2" height="2.0" fill="#6a6aee"/><rect x="354.6" y="616.4" width="2.2" height="2.0" fill="#6a6aee"/><rect x="483.2" y="426.0" width="2.2" height="2.0" fill="#6a6aee"/><rect x="462.2" y="434.5" width="2.2" height="2.0" fill="#2a2ae0"/><rect x="499.6" y="403.0" width="2.2" height="2.0" fill="#9c9cf2"/><rect x="517.1" y="407.3" width="2.2" height="2.0" fill="#2a2ae0"/><rect x="524.6" y="420.1" width="2.2" height="2.0" fill="#2a2ae0"/><rect x="518.3" y="399.8" width="2.2" height="2.0" fill="#2a2ae0"/><rect x="485.5" y="442.6" width="2.2" height="2.0" fill="#6a6aee"/><rect x="471.4" y="402.2" width="2.2" height="2.0" fill="#6a6aee"/><rect x="473.5" y="450.5" width="2.2" height="2.0" fill="#9c9cf2"/><rect x="517.7" y="402.2" width="2.2" height="2.0" fill="#9c9cf2"/><rect x="529.1" y="404.9" width="2.2" height="2.0" fill="#2a2ae0"/><rect x="473.1" y="405.2" width="2.2" height="2.0" fill="#2a2ae0"/><rect x="511.9" y="438.6" width="2.2" height="2.0" fill="#6a6aee"/><rect x="468.6" y="438.4" width="2.2" height="2.0" fill="#2a2ae0"/><rect x="500.2" y="446.5" width="2.2" height="2.0" fill="#2a2ae0"/><rect x="498.5" y="418.4" width="2.2" height="2.0" fill="#2a2ae0"/><rect x="507.0" y="416.1" width="2.2" height="2.0" fill="#6a6aee"/><rect x="495.7" y="421.6" width="2.2" height="2.0" fill="#2a2ae0"/><rect x="513.6" y="452.5" width="2.2" height="2.0" fill="#6a6aee"/><rect x="489.5" y="400.0" width="2.2" height="2.0" fill="#2a2ae0"/><rect x="467.0" y="420.2" width="2.2" height="2.0" fill="#6a6aee"/><rect x="505.4" y="432.4" width="2.2" height="2.0" fill="#2a2ae0"/><rect x="498.8" y="450.5" width="2.2" height="2.0" fill="#2a2ae0"/><rect x="488.3" y="398.1" width="2.2" height="2.0" fill="#2a2ae0"/><rect x="497.6" y="398.3" width="2.2" height="2.0" fill="#2a2ae0"/><rect x="497.1" y="429.7" width="2.2" height="2.0" fill="#2a2ae0"/><rect x="483.6" y="451.2" width="2.2" height="2.0" fill="#2a2ae0"/><rect x="507.0" y="411.7" width="2.2" height="2.0" fill="#6a6aee"/><rect x="489.2" y="429.9" width="2.2" height="2.0" fill="#2a2ae0"/><rect x="489.4" y="448.4" width="2.2" height="2.0" fill="#6a6aee"/><rect x="488.7" y="448.4" width="2.2" height="2.0" fill="#6a6aee"/><rect x="483.4" y="423.3" width="2.2" height="2.0" fill="#9c9cf2"/><rect x="507.6" y="403.5" width="2.2" height="2.0" fill="#9c9cf2"/><rect x="505.4" y="414.8" width="2.2" height="2.0" fill="#9c9cf2"/><rect x="495.8" y="430.1" width="2.2" height="2.0" fill="#2a2ae0"/><rect x="503.2" y="427.5" width="2.2" height="2.0" fill="#2a2ae0"/><rect x="485.7" y="446.3" width="2.2" height="2.0" fill="#6a6aee"/><rect x="484.5" y="418.9" width="2.2" height="2.0" fill="#2a2ae0"/><rect x="481.5" y="452.0" width="2.2" height="2.0" fill="#6a6aee"/><rect x="493.5" y="426.1" width="2.2" height="2.0" fill="#6a6aee"/><rect x="483.7" y="435.1" width="2.2" height="2.0" fill="#2a2ae0"/><rect x="459.6" y="413.2" width="2.2" height="2.0" fill="#2a2ae0"/><rect x="502.4" y="417.3" width="2.2" height="2.0" fill="#6a6aee"/><rect x="499.5" y="408.0" width="2.2" height="2.0" fill="#2a2ae0"/><rect x="485.8" y="418.9" width="2.2" height="2.0" fill="#2a2ae0"/><rect x="502.0" y="410.1" width="2.2" height="2.0" fill="#9c9cf2"/><rect x="506.8" y="444.6" width="2.2" height="2.0" fill="#2a2ae0"/><rect x="501.7" y="422.6" width="2.2" height="2.0" fill="#9c9cf2"/><rect x="492.2" y="448.9" width="2.2" height="2.0" fill="#6a6aee"/><rect x="483.7" y="438.8" width="2.2" height="2.0" fill="#2a2ae0"/><rect x="498.5" y="411.2" width="2.2" height="2.0" fill="#2a2ae0"/><rect x="510.8" y="448.6" width="2.2" height="2.0" fill="#6a6aee"/><rect x="497.6" y="430.0" width="2.2" height="2.0" fill="#6a6aee"/><rect x="484.8" y="436.6" width="2.2" height="2.0" fill="#2a2ae0"/><rect x="496.2" y="445.4" width="2.2" height="2.0" fill="#9c9cf2"/><rect x="473.9" y="445.9" width="2.2" height="2.0" fill="#2a2ae0"/><rect x="503.5" y="412.6" width="2.2" height="2.0" fill="#6a6aee"/><rect x="515.4" y="442.8" width="2.2" height="2.0" fill="#9c9cf2"/><rect x="473.9" y="441.5" width="2.2" height="2.0" fill="#6a6aee"/><rect x="503.0" y="541.2" width="2.2" height="2.0" fill="#2a2ae0"/><rect x="509.5" y="514.9" width="2.2" height="2.0" fill="#6a6aee"/><rect x="506.1" y="493.5" width="2.2" height="2.0" fill="#2a2ae0"/><rect x="499.8" y="519.4" width="2.2" height="2.0" fill="#6a6aee"/><rect x="500.4" y="579.2" width="2.2" height="2.0" fill="#2a2ae0"/><rect x="512.9" y="544.5" width="2.2" height="2.0" fill="#6a6aee"/><rect x="502.7" y="584.8" width="2.2" height="2.0" fill="#2a2ae0"/><rect x="512.5" y="530.5" width="2.2" height="2.0" fill="#2a2ae0"/><rect x="510.8" y="527.4" width="2.2" height="2.0" fill="#2a2ae0"/><rect x="494.0" y="534.4" width="2.2" height="2.0" fill="#2a2ae0"/><rect x="506.5" y="542.5" width="2.2" height="2.0" fill="#6a6aee"/><rect x="501.0" y="527.7" width="2.2" height="2.0" fill="#2a2ae0"/><rect x="511.9" y="548.2" width="2.2" height="2.0" fill="#2a2ae0"/><rect x="506.7" y="558.1" width="2.2" height="2.0" fill="#2a2ae0"/><rect x="513.6" y="469.1" width="2.2" height="2.0" fill="#2a2ae0"/><rect x="507.5" y="512.4" width="2.2" height="2.0" fill="#2a2ae0"/><rect x="502.5" y="550.0" width="2.2" height="2.0" fill="#2a2ae0"/><rect x="511.1" y="495.4" width="2.2" height="2.0" fill="#2a2ae0"/><rect x="507.2" y="528.4" width="2.2" height="2.0" fill="#2a2ae0"/><rect x="493.8" y="563.0" width="2.2" height="2.0" fill="#2a2ae0"/><rect x="508.7" y="559.9" width="2.2" height="2.0" fill="#6a6aee"/><rect x="511.1" y="541.9" width="2.2" height="2.0" fill="#2a2ae0"/><rect x="504.0" y="583.4" width="2.2" height="2.0" fill="#2a2ae0"/><rect x="506.4" y="542.5" width="2.2" height="2.0" fill="#6a6aee"/><rect x="510.7" y="499.1" width="2.2" height="2.0" fill="#2a2ae0"/><rect x="501.8" y="477.8" width="2.2" height="2.0" fill="#6a6aee"/><rect x="500.8" y="495.7" width="2.2" height="2.0" fill="#2a2ae0"/><rect x="517.3" y="493.9" width="2.2" height="2.0" fill="#2a2ae0"/><rect x="508.2" y="552.9" width="2.2" height="2.0" fill="#2a2ae0"/><rect x="508.4" y="492.9" width="2.2" height="2.0" fill="#2a2ae0"/><rect x="501.7" y="542.3" width="2.2" height="2.0" fill="#6a6aee"/><rect x="508.8" y="507.7" width="2.2" height="2.0" fill="#9c9cf2"/><rect x="509.3" y="566.3" width="2.2" height="2.0" fill="#9c9cf2"/><rect x="506.4" y="560.8" width="2.2" height="2.0" fill="#2a2ae0"/><rect x="512.2" y="463.9" width="2.2" height="2.0" fill="#2a2ae0"/><rect x="500.6" y="581.9" width="2.2" height="2.0" fill="#6a6aee"/><rect x="508.0" y="480.0" width="2.2" height="2.0" fill="#2a2ae0"/><rect x="510.8" y="559.8" width="2.2" height="2.0" fill="#2a2ae0"/><rect x="515.5" y="561.8" width="2.2" height="2.0" fill="#2a2ae0"/><rect x="518.6" y="574.3" width="2.2" height="2.0" fill="#6a6aee"/><rect x="509.7" y="574.6" width="2.2" height="2.0" fill="#6a6aee"/><rect x="499.3" y="567.7" width="2.2" height="2.0" fill="#2a2ae0"/><rect x="505.4" y="555.5" width="2.2" height="2.0" fill="#2a2ae0"/><rect x="501.1" y="573.2" width="2.2" height="2.0" fill="#6a6aee"/><rect x="507.6" y="479.6" width="2.2" height="2.0" fill="#2a2ae0"/><rect x="504.9" y="603.2" width="2.2" height="2.0" fill="#2a2ae0"/><rect x="513.5" y="604.7" width="2.2" height="2.0" fill="#9c9cf2"/><rect x="513.0" y="605.4" width="2.2" height="2.0" fill="#6a6aee"/><rect x="518.8" y="601.0" width="2.2" height="2.0" fill="#9c9cf2"/><rect x="498.0" y="606.9" width="2.2" height="2.0" fill="#6a6aee"/><rect x="522.6" y="618.4" width="2.2" height="2.0" fill="#2a2ae0"/><rect x="507.1" y="603.0" width="2.2" height="2.0" fill="#9c9cf2"/><rect x="532.2" y="607.4" width="2.2" height="2.0" fill="#2a2ae0"/><rect x="516.4" y="614.7" width="2.2" height="2.0" fill="#2a2ae0"/><rect x="496.3" y="611.9" width="2.2" height="2.0" fill="#2a2ae0"/><rect x="514.5" y="601.5" width="2.2" height="2.0" fill="#2a2ae0"/><rect x="503.9" y="613.7" width="2.2" height="2.0" fill="#2a2ae0"/><rect x="501.7" y="603.7" width="2.2" height="2.0" fill="#9c9cf2"/><rect x="511.8" y="608.3" width="2.2" height="2.0" fill="#6a6aee"/><rect x="506.5" y="597.3" width="2.2" height="2.0" fill="#6a6aee"/><rect x="521.9" y="607.7" width="2.2" height="2.0" fill="#6a6aee"/><rect x="532.2" y="615.5" width="2.2" height="2.0" fill="#2a2ae0"/><rect x="517.2" y="589.5" width="2.2" height="2.0" fill="#2a2ae0"/><rect x="520.4" y="616.6" width="2.2" height="2.0" fill="#6a6aee"/><rect x="512.3" y="608.4" width="2.2" height="2.0" fill="#6a6aee"/><rect x="527.1" y="607.1" width="2.2" height="2.0" fill="#6a6aee"/><rect x="502.4" y="609.6" width="2.2" height="2.0" fill="#6a6aee"/><rect x="508.2" y="608.7" width="2.2" height="2.0" fill="#2a2ae0"/><rect x="503.8" y="611.6" width="2.2" height="2.0" fill="#2a2ae0"/><rect x="513.5" y="612.0" width="2.2" height="2.0" fill="#9c9cf2"/><rect x="515.2" y="608.3" width="2.2" height="2.0" fill="#2a2ae0"/><rect x="522.1" y="605.4" width="2.2" height="2.0" fill="#2a2ae0"/><rect x="502.0" y="601.4" width="2.2" height="2.0" fill="#6a6aee"/><rect x="517.4" y="616.9" width="2.2" height="2.0" fill="#2a2ae0"/><rect x="508.6" y="591.7" width="2.2" height="2.0" fill="#6a6aee"/><rect x="510.5" y="605.8" width="2.2" height="2.0" fill="#9c9cf2"/><rect x="509.9" y="600.0" width="2.2" height="2.0" fill="#6a6aee"/><rect x="512.7" y="617.1" width="2.2" height="2.0" fill="#9c9cf2"/><rect x="514.1" y="608.0" width="2.2" height="2.0" fill="#2a2ae0"/><rect x="513.3" y="588.1" width="2.2" height="2.0" fill="#6a6aee"/><rect x="513.9" y="591.8" width="2.2" height="2.0" fill="#9c9cf2"/><rect x="510.1" y="610.7" width="2.2" height="2.0" fill="#2a2ae0"/><rect x="515.1" y="614.5" width="2.2" height="2.0" fill="#6a6aee"/><rect x="497.9" y="602.3" width="2.2" height="2.0" fill="#9c9cf2"/><rect x="511.0" y="614.7" width="2.2" height="2.0" fill="#2a2ae0"/><rect x="500.5" y="601.6" width="2.2" height="2.0" fill="#6a6aee"/><rect x="515.6" y="608.0" width="2.2" height="2.0" fill="#6a6aee"/><rect x="500.2" y="601.0" width="2.2" height="2.0" fill="#2a2ae0"/><rect x="519.1" y="612.3" width="2.2" height="2.0" fill="#6a6aee"/><rect x="525.1" y="613.6" width="2.2" height="2.0" fill="#2a2ae0"/><rect x="507.1" y="615.5" width="2.2" height="2.0" fill="#2a2ae0"/><rect x="524.8" y="609.2" width="2.2" height="2.0" fill="#6a6aee"/><rect x="510.9" y="606.2" width="2.2" height="2.0" fill="#6a6aee"/><rect x="525.6" y="615.5" width="2.2" height="2.0" fill="#2a2ae0"/><rect x="523.9" y="614.9" width="2.2" height="2.0" fill="#6a6aee"/><rect x="526.0" y="609.2" width="2.2" height="2.0" fill="#9c9cf2"/><rect x="526.2" y="612.7" width="2.2" height="2.0" fill="#2a2ae0"/><rect x="520.4" y="611.3" width="2.2" height="2.0" fill="#9c9cf2"/><rect x="513.8" y="609.0" width="2.2" height="2.0" fill="#2a2ae0"/><rect x="511.4" y="612.5" width="2.2" height="2.0" fill="#2a2ae0"/><rect x="519.8" y="595.2" width="2.2" height="2.0" fill="#6a6aee"/><rect x="491.0" y="615.8" width="2.2" height="2.0" fill="#9c9cf2"/><rect x="497.3" y="606.3" width="2.2" height="2.0" fill="#2a2ae0"/><rect x="510.0" y="594.0" width="2.2" height="2.0" fill="#2a2ae0"/><rect x="508.3" y="605.5" width="2.2" height="2.0" fill="#2a2ae0"/><rect x="500.2" y="604.0" width="2.2" height="2.0" fill="#2a2ae0"/><rect x="495.1" y="606.5" width="2.2" height="2.0" fill="#2a2ae0"/><rect x="509.4" y="589.0" width="2.2" height="2.0" fill="#9c9cf2"/><rect x="511.7" y="614.8" width="2.2" height="2.0" fill="#2a2ae0"/><rect x="502.8" y="612.2" width="2.2" height="2.0" fill="#2a2ae0"/><rect x="507.9" y="617.3" width="2.2" height="2.0" fill="#6a6aee"/><rect x="514.5" y="590.6" width="2.2" height="2.0" fill="#2a2ae0"/><rect x="519.8" y="605.3" width="2.2" height="2.0" fill="#9c9cf2"/><rect x="504.4" y="617.7" width="2.2" height="2.0" fill="#2a2ae0"/><rect x="494.9" y="617.6" width="2.2" height="2.0" fill="#6a6aee"/><rect x="504.7" y="600.2" width="2.2" height="2.0" fill="#2a2ae0"/><rect x="530.1" y="618.7" width="2.2" height="2.0" fill="#2a2ae0"/><rect x="511.6" y="616.0" width="2.2" height="2.0" fill="#9c9cf2"/><rect x="524.1" y="614.0" width="2.2" height="2.0" fill="#2a2ae0"/><rect x="516.6" y="608.0" width="2.2" height="2.0" fill="#9c9cf2"/><rect x="525.4" y="617.1" width="2.2" height="2.0" fill="#6a6aee"/><rect x="511.7" y="602.9" width="2.2" height="2.0" fill="#2a2ae0"/><rect x="518.7" y="595.4" width="2.2" height="2.0" fill="#2a2ae0"/><rect x="511.1" y="610.2" width="2.2" height="2.0" fill="#2a2ae0"/><rect x="510.1" y="589.1" width="2.2" height="2.0" fill="#9c9cf2"/><rect x="517.6" y="614.9" width="2.2" height="2.0" fill="#9c9cf2"/><rect x="506.4" y="616.8" width="2.2" height="2.0" fill="#6a6aee"/><rect x="513.9" y="607.5" width="2.2" height="2.0" fill="#2a2ae0"/><rect x="499.1" y="602.8" width="2.2" height="2.0" fill="#6a6aee"/><rect x="512.8" y="610.1" width="2.2" height="2.0" fill="#6a6aee"/><rect x="553.0" y="533.0" width="2.2" height="2.0" fill="#6a6aee"/><rect x="527.0" y="545.0" width="2.2" height="2.0" fill="#6a6aee"/><rect x="508.0" y="629.0" width="2.2" height="2.0" fill="#6a6aee"/><rect x="527.0" y="629.0" width="2.2" height="2.0" fill="#6a6aee"/><rect x="536.0" y="630.0" width="2.2" height="2.0" fill="#6a6aee"/><rect x="464.0" y="592.0" width="2.2" height="2.0" fill="#6a6aee"/><rect x="468.0" y="598.0" width="2.2" height="2.0" fill="#6a6aee"/><rect x="545.0" y="610.0" width="2.2" height="2.0" fill="#6a6aee"/><rect x="555.0" y="612.0" width="2.2" height="2.0" fill="#6a6aee"/><rect x="540.0" y="604.0" width="2.2" height="2.0" fill="#6a6aee"/><rect x="236.7" y="620.0" width="2.6" height="1.8" fill="#6a6aee"/><rect x="282.7" y="619.0" width="2.6" height="1.8" fill="#2a2ae0"/><rect x="245.4" y="620.0" width="2.6" height="1.8" fill="#2a2ae0"/><rect x="302.2" y="620.1" width="2.6" height="1.8" fill="#6a6aee"/><rect x="203.5" y="619.2" width="2.6" height="1.8" fill="#6a6aee"/><rect x="362.5" y="619.4" width="2.6" height="1.8" fill="#2a2ae0"/><rect x="319.7" y="620.5" width="2.6" height="1.8" fill="#6a6aee"/><rect x="559.3" y="620.2" width="2.6" height="1.8" fill="#6a6aee"/><rect x="203.7" y="620.2" width="2.6" height="1.8" fill="#2a2ae0"/><rect x="293.0" y="619.8" width="2.6" height="1.8" fill="#6a6aee"/><rect x="310.9" y="619.6" width="2.6" height="1.8" fill="#2a2ae0"/><rect x="182.7" y="620.4" width="2.6" height="1.8" fill="#2a2ae0"/><rect x="346.5" y="618.3" width="2.6" height="1.8" fill="#6a6aee"/><rect x="264.5" y="619.0" width="2.6" height="1.8" fill="#2a2ae0"/><rect x="473.2" y="619.4" width="2.6" height="1.8" fill="#2a2ae0"/><rect x="212.0" y="621.1" width="2.6" height="1.8" fill="#2a2ae0"/><rect x="285.5" y="620.5" width="2.6" height="1.8" fill="#2a2ae0"/><rect x="413.5" y="619.0" width="2.6" height="1.8" fill="#2a2ae0"/><rect x="258.5" y="617.4" width="2.6" height="1.8" fill="#2a2ae0"/><rect x="500.2" y="619.4" width="2.6" height="1.8" fill="#6a6aee"/><rect x="362.2" y="619.6" width="2.6" height="1.8" fill="#6a6aee"/><rect x="282.6" y="620.5" width="2.6" height="1.8" fill="#2a2ae0"/><rect x="243.8" y="621.8" width="2.6" height="1.8" fill="#2a2ae0"/><rect x="406.9" y="621.1" width="2.6" height="1.8" fill="#2a2ae0"/><rect x="376.9" y="619.6" width="2.6" height="1.8" fill="#2a2ae0"/><rect x="452.1" y="620.1" width="2.6" height="1.8" fill="#2a2ae0"/><rect x="326.2" y="618.8" width="2.6" height="1.8" fill="#2a2ae0"/><rect x="205.1" y="621.8" width="2.6" height="1.8" fill="#2a2ae0"/><rect x="376.0" y="617.4" width="2.6" height="1.8" fill="#2a2ae0"/><rect x="385.1" y="622.8" width="2.6" height="1.8" fill="#2a2ae0"/><rect x="250.9" y="620.0" width="2.6" height="1.8" fill="#2a2ae0"/><rect x="276.7" y="619.7" width="2.6" height="1.8" fill="#2a2ae0"/><rect x="188.7" y="619.3" width="2.6" height="1.8" fill="#2a2ae0"/><rect x="399.9" y="617.7" width="2.6" height="1.8" fill="#2a2ae0"/><rect x="510.7" y="619.4" width="2.6" height="1.8" fill="#2a2ae0"/><rect x="228.5" y="618.1" width="2.6" height="1.8" fill="#2a2ae0"/><rect x="228.1" y="619.7" width="2.6" height="1.8" fill="#2a2ae0"/><rect x="233.8" y="617.5" width="2.6" height="1.8" fill="#2a2ae0"/><rect x="398.5" y="618.2" width="2.6" height="1.8" fill="#2a2ae0"/><rect x="244.1" y="621.0" width="2.6" height="1.8" fill="#2a2ae0"/><rect x="340.9" y="617.0" width="2.6" height="1.8" fill="#6a6aee"/><rect x="380.7" y="617.2" width="2.6" height="1.8" fill="#2a2ae0"/><rect x="310.0" y="621.4" width="2.6" height="1.8" fill="#2a2ae0"/><rect x="308.7" y="616.4" width="2.6" height="1.8" fill="#6a6aee"/><rect x="527.0" y="620.6" width="2.6" height="1.8" fill="#6a6aee"/><rect x="202.2" y="616.5" width="2.6" height="1.8" fill="#6a6aee"/><rect x="276.2" y="619.3" width="2.6" height="1.8" fill="#2a2ae0"/><rect x="382.6" y="620.8" width="2.6" height="1.8" fill="#2a2ae0"/><rect x="189.9" y="620.2" width="2.6" height="1.8" fill="#2a2ae0"/><rect x="548.5" y="620.8" width="2.6" height="1.8" fill="#6a6aee"/><rect x="516.3" y="619.1" width="2.6" height="1.8" fill="#2a2ae0"/><rect x="387.0" y="621.1" width="2.6" height="1.8" fill="#2a2ae0"/><rect x="378.7" y="618.8" width="2.6" height="1.8" fill="#2a2ae0"/><rect x="297.4" y="619.2" width="2.6" height="1.8" fill="#2a2ae0"/><rect x="283.5" y="619.1" width="2.6" height="1.8" fill="#2a2ae0"/><rect x="383.8" y="620.0" width="2.6" height="1.8" fill="#2a2ae0"/><rect x="293.0" y="620.1" width="2.6" height="1.8" fill="#2a2ae0"/><rect x="291.0" y="619.6" width="2.6" height="1.8" fill="#2a2ae0"/><rect x="499.4" y="620.0" width="2.6" height="1.8" fill="#2a2ae0"/><rect x="389.2" y="618.5" width="2.6" height="1.8" fill="#2a2ae0"/><rect x="273.6" y="618.7" width="2.6" height="1.8" fill="#2a2ae0"/><rect x="375.7" y="618.4" width="2.6" height="1.8" fill="#2a2ae0"/><rect x="315.3" y="620.7" width="2.6" height="1.8" fill="#6a6aee"/><rect x="272.2" y="618.2" width="2.6" height="1.8" fill="#2a2ae0"/><rect x="207.2" y="619.1" width="2.6" height="1.8" fill="#6a6aee"/><rect x="348.3" y="620.7" width="2.6" height="1.8" fill="#2a2ae0"/><rect x="267.1" y="620.1" width="2.6" height="1.8" fill="#6a6aee"/><rect x="309.4" y="618.5" width="2.6" height="1.8" fill="#2a2ae0"/><rect x="503.3" y="620.7" width="2.6" height="1.8" fill="#2a2ae0"/><rect x="461.3" y="619.7" width="2.6" height="1.8" fill="#2a2ae0"/><rect x="449.8" y="618.6" width="2.6" height="1.8" fill="#2a2ae0"/><rect x="471.4" y="617.3" width="2.6" height="1.8" fill="#2a2ae0"/><rect x="340.0" y="619.6" width="2.6" height="1.8" fill="#2a2ae0"/><rect x="511.9" y="618.9" width="2.6" height="1.8" fill="#2a2ae0"/><rect x="329.7" y="620.5" width="2.6" height="1.8" fill="#2a2ae0"/><rect x="327.3" y="618.6" width="2.6" height="1.8" fill="#6a6aee"/><rect x="370.8" y="621.6" width="2.6" height="1.8" fill="#2a2ae0"/><rect x="251.6" y="619.4" width="2.6" height="1.8" fill="#2a2ae0"/><rect x="401.8" y="620.3" width="2.6" height="1.8" fill="#2a2ae0"/><rect x="500.8" y="620.2" width="2.6" height="1.8" fill="#2a2ae0"/><rect x="199.9" y="619.4" width="2.6" height="1.8" fill="#2a2ae0"/><rect x="370.0" y="621.5" width="2.6" height="1.8" fill="#2a2ae0"/><rect x="377.5" y="618.6" width="2.6" height="1.8" fill="#2a2ae0"/><rect x="329.2" y="618.5" width="2.6" height="1.8" fill="#2a2ae0"/><rect x="540.3" y="620.5" width="2.6" height="1.8" fill="#2a2ae0"/><rect x="219.4" y="618.7" width="2.6" height="1.8" fill="#2a2ae0"/><rect x="399.0" y="620.5" width="2.6" height="1.8" fill="#6a6aee"/><rect x="348.4" y="616.6" width="2.6" height="1.8" fill="#2a2ae0"/><rect x="382.4" y="616.7" width="2.6" height="1.8" fill="#6a6aee"/><rect x="246.5" y="618.2" width="2.6" height="1.8" fill="#6a6aee"/><rect x="375.8" y="622.8" width="2.6" height="1.8" fill="#2a2ae0"/><rect x="520.1" y="620.8" width="2.6" height="1.8" fill="#6a6aee"/><rect x="341.1" y="616.2" width="2.6" height="1.8" fill="#2a2ae0"/><rect x="291.6" y="618.1" width="2.6" height="1.8" fill="#2a2ae0"/><rect x="251.0" y="619.5" width="2.6" height="1.8" fill="#2a2ae0"/><rect x="410.0" y="617.2" width="2.6" height="1.8" fill="#2a2ae0"/><rect x="198.0" y="622.8" width="2.6" height="1.8" fill="#2a2ae0"/><rect x="297.1" y="620.5" width="2.6" height="1.8" fill="#2a2ae0"/><rect x="256.3" y="618.2" width="2.6" height="1.8" fill="#2a2ae0"/><rect x="391.1" y="619.4" width="2.6" height="1.8" fill="#2a2ae0"/><rect x="558.9" y="620.9" width="2.6" height="1.8" fill="#2a2ae0"/><rect x="227.9" y="620.8" width="2.6" height="1.8" fill="#2a2ae0"/><rect x="219.8" y="621.4" width="2.6" height="1.8" fill="#2a2ae0"/><rect x="379.5" y="620.4" width="2.6" height="1.8" fill="#6a6aee"/><rect x="205.5" y="618.1" width="2.6" height="1.8" fill="#2a2ae0"/><rect x="246.0" y="619.5" width="2.6" height="1.8" fill="#6a6aee"/><rect x="402.1" y="620.2" width="2.6" height="1.8" fill="#2a2ae0"/><rect x="352.0" y="619.3" width="2.6" height="1.8" fill="#6a6aee"/><rect x="402.2" y="619.9" width="2.6" height="1.8" fill="#6a6aee"/><rect x="348.2" y="618.9" width="2.6" height="1.8" fill="#2a2ae0"/><rect x="533.9" y="619.1" width="2.6" height="1.8" fill="#2a2ae0"/><rect x="521.8" y="619.2" width="2.6" height="1.8" fill="#6a6aee"/><rect x="369.3" y="621.2" width="2.6" height="1.8" fill="#6a6aee"/><rect x="273.8" y="618.1" width="2.6" height="1.8" fill="#2a2ae0"/><rect x="298.9" y="620.9" width="2.6" height="1.8" fill="#6a6aee"/><rect x="365.1" y="619.8" width="2.6" height="1.8" fill="#2a2ae0"/><rect x="317.5" y="618.7" width="2.6" height="1.8" fill="#2a2ae0"/><rect x="394.3" y="620.8" width="2.6" height="1.8" fill="#2a2ae0"/><rect x="334.4" y="620.6" width="2.6" height="1.8" fill="#2a2ae0"/><rect x="228.6" y="620.1" width="2.6" height="1.8" fill="#2a2ae0"/><rect x="254.3" y="618.6" width="2.6" height="1.8" fill="#2a2ae0"/><rect x="271.7" y="621.4" width="2.6" height="1.8" fill="#2a2ae0"/><rect x="240.9" y="620.0" width="2.6" height="1.8" fill="#2a2ae0"/><rect x="217.0" y="619.3" width="2.6" height="1.8" fill="#2a2ae0"/><rect x="349.6" y="622.0" width="2.6" height="1.8" fill="#6a6aee"/><rect x="315.4" y="619.4" width="2.6" height="1.8" fill="#6a6aee"/><rect x="260.6" y="618.4" width="2.6" height="1.8" fill="#6a6aee"/><rect x="372.8" y="619.8" width="2.6" height="1.8" fill="#2a2ae0"/><rect x="522.1" y="620.6" width="2.6" height="1.8" fill="#2a2ae0"/><rect x="275.1" y="618.9" width="2.6" height="1.8" fill="#6a6aee"/><rect x="228.4" y="619.1" width="2.6" height="1.8" fill="#2a2ae0"/><rect x="387.1" y="619.3" width="2.6" height="1.8" fill="#2a2ae0"/><rect x="430.5" y="621.1" width="2.6" height="1.8" fill="#2a2ae0"/><rect x="329.4" y="620.3" width="2.6" height="1.8" fill="#6a6aee"/><rect x="303.4" y="620.0" width="2.6" height="1.8" fill="#2a2ae0"/><rect x="223.2" y="618.5" width="2.6" height="1.8" fill="#2a2ae0"/><rect x="294.3" y="619.2" width="2.6" height="1.8" fill="#2a2ae0"/><rect x="299.7" y="619.7" width="2.6" height="1.8" fill="#2a2ae0"/><rect x="288.7" y="620.2" width="2.6" height="1.8" fill="#2a2ae0"/><rect x="525.6" y="620.9" width="2.6" height="1.8" fill="#2a2ae0"/><rect x="286.5" y="617.9" width="2.6" height="1.8" fill="#2a2ae0"/><rect x="438.9" y="619.0" width="2.6" height="1.8" fill="#2a2ae0"/><rect x="225.6" y="620.6" width="2.6" height="1.8" fill="#6a6aee"/><rect x="459.5" y="619.8" width="2.6" height="1.8" fill="#2a2ae0"/><rect x="256.9" y="619.7" width="2.6" height="1.8" fill="#2a2ae0"/><rect x="325.9" y="620.6" width="2.6" height="1.8" fill="#2a2ae0"/><rect x="249.9" y="619.9" width="2.6" height="1.8" fill="#6a6aee"/><rect x="397.5" y="619.4" width="2.6" height="1.8" fill="#2a2ae0"/><rect x="182.4" y="618.7" width="2.6" height="1.8" fill="#6a6aee"/><rect x="198.2" y="620.6" width="2.6" height="1.8" fill="#2a2ae0"/><rect x="274.4" y="618.2" width="2.6" height="1.8" fill="#2a2ae0"/><rect x="527.7" y="620.8" width="2.6" height="1.8" fill="#2a2ae0"/><rect x="464.6" y="620.3" width="2.6" height="1.8" fill="#2a2ae0"/><rect x="216.0" y="620.8" width="2.6" height="1.8" fill="#6a6aee"/><rect x="443.4" y="619.3" width="2.6" height="1.8" fill="#6a6aee"/><rect x="202.5" y="619.2" width="2.6" height="1.8" fill="#2a2ae0"/><rect x="447.6" y="618.7" width="2.6" height="1.8" fill="#2a2ae0"/><rect x="388.5" y="621.3" width="2.6" height="1.8" fill="#2a2ae0"/><rect x="276.4" y="619.3" width="2.6" height="1.8" fill="#2a2ae0"/><rect x="317.3" y="618.9" width="2.6" height="1.8" fill="#2a2ae0"/><rect x="233.6" y="620.0" width="2.6" height="1.8" fill="#2a2ae0"/><rect x="273.4" y="618.2" width="2.6" height="1.8" fill="#6a6aee"/><rect x="314.9" y="619.5" width="2.6" height="1.8" fill="#2a2ae0"/><rect x="394.9" y="618.4" width="2.6" height="1.8" fill="#2a2ae0"/><rect x="433.9" y="621.0" width="2.6" height="1.8" fill="#2a2ae0"/><rect x="471.6" y="620.2" width="2.6" height="1.8" fill="#2a2ae0"/><rect x="260.0" y="620.3" width="2.6" height="1.8" fill="#2a2ae0"/><rect x="288.2" y="620.2" width="2.6" height="1.8" fill="#2a2ae0"/><rect x="224.7" y="621.4" width="2.6" height="1.8" fill="#2a2ae0"/><rect x="359.2" y="619.1" width="2.6" height="1.8" fill="#2a2ae0"/><rect x="186.1" y="620.2" width="2.6" height="1.8" fill="#6a6aee"/><rect x="453.1" y="619.2" width="2.6" height="1.8" fill="#2a2ae0"/><rect x="346.1" y="619.4" width="2.6" height="1.8" fill="#2a2ae0"/><rect x="387.3" y="622.4" width="2.6" height="1.8" fill="#2a2ae0"/><rect x="419.3" y="619.7" width="2.6" height="1.8" fill="#2a2ae0"/><rect x="277.0" y="619.6" width="2.6" height="1.8" fill="#2a2ae0"/><rect x="474.7" y="620.1" width="2.6" height="1.8" fill="#2a2ae0"/><rect x="252.2" y="618.0" width="2.6" height="1.8" fill="#6a6aee"/><rect x="245.7" y="617.8" width="2.6" height="1.8" fill="#2a2ae0"/><rect x="495.9" y="619.3" width="2.6" height="1.8" fill="#6a6aee"/><rect x="303.0" y="620.3" width="2.6" height="1.8" fill="#2a2ae0"/><rect x="390.3" y="618.0" width="2.6" height="1.8" fill="#2a2ae0"/><rect x="197.6" y="621.3" width="2.6" height="1.8" fill="#2a2ae0"/><rect x="419.5" y="619.1" width="2.6" height="1.8" fill="#6a6aee"/><rect x="368.9" y="617.0" width="2.6" height="1.8" fill="#2a2ae0"/><rect x="241.5" y="619.1" width="2.6" height="1.8" fill="#2a2ae0"/><rect x="349.5" y="621.2" width="2.6" height="1.8" fill="#6a6aee"/><rect x="215.9" y="620.9" width="2.6" height="1.8" fill="#2a2ae0"/><rect x="499.8" y="619.8" width="2.6" height="1.8" fill="#2a2ae0"/><rect x="342.8" y="619.2" width="2.6" height="1.8" fill="#2a2ae0"/><rect x="341.2" y="621.4" width="2.6" height="1.8" fill="#2a2ae0"/><rect x="347.8" y="618.4" width="2.6" height="1.8" fill="#6a6aee"/><rect x="244.2" y="617.6" width="2.6" height="1.8" fill="#2a2ae0"/><rect x="349.5" y="618.5" width="2.6" height="1.8" fill="#2a2ae0"/><rect x="214.1" y="619.2" width="2.6" height="1.8" fill="#2a2ae0"/><rect x="356.1" y="622.3" width="2.6" height="1.8" fill="#6a6aee"/><rect x="550.3" y="619.2" width="2.6" height="1.8" fill="#2a2ae0"/><rect x="437.7" y="619.3" width="2.6" height="1.8" fill="#6a6aee"/><rect x="363.7" y="621.2" width="2.6" height="1.8" fill="#2a2ae0"/><rect x="295.1" y="618.2" width="2.6" height="1.8" fill="#2a2ae0"/><rect x="253.4" y="621.8" width="2.6" height="1.8" fill="#2a2ae0"/><rect x="351.1" y="621.2" width="2.6" height="1.8" fill="#2a2ae0"/><rect x="401.5" y="620.5" width="2.6" height="1.8" fill="#2a2ae0"/><rect x="382.3" y="618.4" width="2.6" height="1.8" fill="#2a2ae0"/><rect x="250.2" y="619.1" width="2.6" height="1.8" fill="#6a6aee"/><rect x="389.2" y="621.5" width="2.6" height="1.8" fill="#2a2ae0"/><rect x="217.9" y="621.2" width="2.6" height="1.8" fill="#2a2ae0"/><rect x="277.1" y="618.0" width="2.6" height="1.8" fill="#2a2ae0"/><rect x="398.5" y="619.7" width="2.6" height="1.8" fill="#2a2ae0"/><rect x="376.0" y="619.2" width="2.6" height="1.8" fill="#2a2ae0"/><rect x="209.8" y="619.3" width="2.6" height="1.8" fill="#2a2ae0"/><rect x="508.4" y="619.3" width="2.6" height="1.8" fill="#2a2ae0"/><rect x="556.5" y="618.1" width="2.6" height="1.8" fill="#2a2ae0"/><rect x="246.7" y="621.2" width="2.6" height="1.8" fill="#2a2ae0"/><rect x="233.7" y="619.2" width="2.6" height="1.8" fill="#2a2ae0"/><rect x="203.8" y="619.7" width="2.6" height="1.8" fill="#2a2ae0"/><rect x="406.6" y="620.8" width="2.6" height="1.8" fill="#2a2ae0"/><rect x="295.4" y="619.3" width="2.6" height="1.8" fill="#6a6aee"/><rect x="416.8" y="618.7" width="2.6" height="1.8" fill="#2a2ae0"/><rect x="528.8" y="620.3" width="2.6" height="1.8" fill="#2a2ae0"/><rect x="470.6" y="620.9" width="2.6" height="1.8" fill="#6a6aee"/><rect x="228.4" y="618.2" width="2.6" height="1.8" fill="#6a6aee"/><rect x="410.2" y="621.1" width="2.6" height="1.8" fill="#2a2ae0"/><rect x="389.5" y="619.8" width="2.6" height="1.8" fill="#6a6aee"/><rect x="255.0" y="619.0" width="2.6" height="1.8" fill="#2a2ae0"/><rect x="498.8" y="619.7" width="2.6" height="1.8" fill="#2a2ae0"/><rect x="391.5" y="619.8" width="2.6" height="1.8" fill="#2a2ae0"/><rect x="236.5" y="620.7" width="2.6" height="1.8" fill="#2a2ae0"/><rect x="487.5" y="618.8" width="2.6" height="1.8" fill="#2a2ae0"/><rect x="311.4" y="620.5" width="2.6" height="1.8" fill="#6a6aee"/><rect x="250.9" y="620.8" width="2.6" height="1.8" fill="#6a6aee"/><rect x="361.8" y="620.9" width="2.6" height="1.8" fill="#2a2ae0"/><rect x="512.0" y="621.1" width="2.6" height="1.8" fill="#2a2ae0"/><rect x="306.5" y="620.2" width="2.6" height="1.8" fill="#2a2ae0"/><rect x="198.5" y="622.2" width="2.6" height="1.8" fill="#2a2ae0"/><rect x="318.5" y="618.0" width="2.6" height="1.8" fill="#2a2ae0"/><rect x="315.7" y="619.9" width="2.6" height="1.8" fill="#2a2ae0"/><rect x="400.9" y="619.5" width="2.6" height="1.8" fill="#2a2ae0"/><rect x="237.1" y="619.8" width="2.6" height="1.8" fill="#2a2ae0"/><rect x="285.1" y="619.4" width="2.6" height="1.8" fill="#2a2ae0"/><rect x="397.1" y="621.1" width="2.6" height="1.8" fill="#2a2ae0"/><rect x="543.7" y="620.7" width="2.6" height="1.8" fill="#2a2ae0"/><rect x="511.8" y="619.8" width="2.6" height="1.8" fill="#2a2ae0"/><rect x="288.4" y="620.3" width="2.6" height="1.8" fill="#6a6aee"/><rect x="470.5" y="617.8" width="2.6" height="1.8" fill="#2a2ae0"/><rect x="390.2" y="619.2" width="2.6" height="1.8" fill="#2a2ae0"/><rect x="304.2" y="619.8" width="2.6" height="1.8" fill="#6a6aee"/><rect x="364.0" y="619.0" width="2.6" height="1.8" fill="#2a2ae0"/><rect x="314.0" y="620.3" width="2.6" height="1.8" fill="#2a2ae0"/><rect x="184.7" y="620.5" width="2.6" height="1.8" fill="#2a2ae0"/><rect x="397.0" y="618.6" width="2.6" height="1.8" fill="#2a2ae0"/><rect x="245.9" y="620.6" width="2.6" height="1.8" fill="#2a2ae0"/><rect x="456.7" y="619.9" width="2.6" height="1.8" fill="#6a6aee"/><rect x="310.7" y="621.1" width="2.6" height="1.8" fill="#2a2ae0"/><rect x="249.6" y="618.8" width="2.6" height="1.8" fill="#2a2ae0"/><rect x="365.1" y="620.4" width="2.6" height="1.8" fill="#2a2ae0"/><rect x="190.7" y="619.0" width="2.6" height="1.8" fill="#2a2ae0"/><rect x="283.3" y="619.4" width="2.6" height="1.8" fill="#2a2ae0"/><rect x="257.7" y="618.8" width="2.6" height="1.8" fill="#2a2ae0"/><rect x="508.6" y="620.1" width="2.6" height="1.8" fill="#6a6aee"/><rect x="409.2" y="621.5" width="2.6" height="1.8" fill="#2a2ae0"/><rect x="488.0" y="619.3" width="2.6" height="1.8" fill="#2a2ae0"/><rect x="385.0" y="620.2" width="2.6" height="1.8" fill="#6a6aee"/><rect x="423.9" y="619.8" width="2.6" height="1.8" fill="#2a2ae0"/><rect x="203.7" y="620.7" width="2.6" height="1.8" fill="#2a2ae0"/><rect x="199.2" y="618.8" width="2.6" height="1.8" fill="#2a2ae0"/><rect x="408.0" y="618.8" width="2.6" height="1.8" fill="#2a2ae0"/><rect x="357.2" y="622.4" width="2.6" height="1.8" fill="#2a2ae0"/><rect x="414.1" y="619.8" width="2.6" height="1.8" fill="#2a2ae0"/><rect x="306.4" y="620.2" width="2.6" height="1.8" fill="#2a2ae0"/><rect x="385.6" y="620.0" width="2.6" height="1.8" fill="#2a2ae0"/><rect x="391.8" y="618.7" width="2.6" height="1.8" fill="#2a2ae0"/><rect x="450.9" y="618.6" width="2.6" height="1.8" fill="#2a2ae0"/><rect x="298.9" y="620.1" width="2.6" height="1.8" fill="#2a2ae0"/><rect x="287.2" y="616.2" width="2.6" height="1.8" fill="#2a2ae0"/><rect x="185.4" y="617.8" width="2.6" height="1.8" fill="#2a2ae0"/><rect x="319.0" y="619.9" width="2.6" height="1.8" fill="#6a6aee"/><rect x="268.2" y="619.6" width="2.6" height="1.8" fill="#2a2ae0"/><rect x="232.7" y="619.1" width="2.6" height="1.8" fill="#2a2ae0"/><rect x="371.7" y="618.9" width="2.6" height="1.8" fill="#6a6aee"/><rect x="320.2" y="619.3" width="2.6" height="1.8" fill="#2a2ae0"/><rect x="249.1" y="619.4" width="2.6" height="1.8" fill="#2a2ae0"/><rect x="193.0" y="616.8" width="2.6" height="1.8" fill="#2a2ae0"/><rect x="273.7" y="621.1" width="2.6" height="1.8" fill="#2a2ae0"/><rect x="312.1" y="619.4" width="2.6" height="1.8" fill="#6a6aee"/><rect x="355.9" y="618.4" width="2.6" height="1.8" fill="#2a2ae0"/><rect x="395.3" y="622.0" width="2.6" height="1.8" fill="#2a2ae0"/><rect x="529.4" y="619.2" width="2.6" height="1.8" fill="#2a2ae0"/><rect x="281.2" y="619.0" width="2.6" height="1.8" fill="#2a2ae0"/><rect x="269.5" y="620.2" width="2.6" height="1.8" fill="#2a2ae0"/><rect x="294.8" y="621.6" width="2.6" height="1.8" fill="#6a6aee"/><rect x="263.9" y="618.9" width="2.6" height="1.8" fill="#6a6aee"/><rect x="466.1" y="619.4" width="2.6" height="1.8" fill="#2a2ae0"/><rect x="307.3" y="617.0" width="2.6" height="1.8" fill="#2a2ae0"/><rect x="440.1" y="619.8" width="2.6" height="1.8" fill="#2a2ae0"/><rect x="400.9" y="620.2" width="2.6" height="1.8" fill="#6a6aee"/><rect x="318.2" y="619.0" width="2.6" height="1.8" fill="#2a2ae0"/><rect x="508.6" y="619.5" width="2.6" height="1.8" fill="#2a2ae0"/><rect x="245.8" y="619.9" width="2.6" height="1.8" fill="#2a2ae0"/><rect x="216.1" y="618.1" width="2.6" height="1.8" fill="#2a2ae0"/><rect x="515.4" y="621.3" width="2.6" height="1.8" fill="#2a2ae0"/><rect x="270.7" y="620.1" width="2.6" height="1.8" fill="#2a2ae0"/><rect x="372.8" y="617.8" width="2.6" height="1.8" fill="#2a2ae0"/><rect x="344.7" y="619.8" width="2.6" height="1.8" fill="#6a6aee"/><rect x="301.6" y="619.8" width="2.6" height="1.8" fill="#6a6aee"/><rect x="227.5" y="618.9" width="2.6" height="1.8" fill="#2a2ae0"/><rect x="249.7" y="619.7" width="2.6" height="1.8" fill="#2a2ae0"/><rect x="237.9" y="619.5" width="2.6" height="1.8" fill="#2a2ae0"/><rect x="315.7" y="618.1" width="2.6" height="1.8" fill="#2a2ae0"/><rect x="263.3" y="622.1" width="2.6" height="1.8" fill="#2a2ae0"/><rect x="285.2" y="619.1" width="2.6" height="1.8" fill="#2a2ae0"/><rect x="282.0" y="619.9" width="2.6" height="1.8" fill="#2a2ae0"/><rect x="336.3" y="619.8" width="2.6" height="1.8" fill="#2a2ae0"/><rect x="319.1" y="621.5" width="2.6" height="1.8" fill="#2a2ae0"/><rect x="387.6" y="619.7" width="2.6" height="1.8" fill="#2a2ae0"/><rect x="442.9" y="620.6" width="2.6" height="1.8" fill="#2a2ae0"/><rect x="302.3" y="618.2" width="2.6" height="1.8" fill="#2a2ae0"/><rect x="327.7" y="619.0" width="2.6" height="1.8" fill="#6a6aee"/><rect x="184.0" y="620.0" width="2.6" height="1.8" fill="#2a2ae0"/><rect x="412.9" y="618.9" width="2.6" height="1.8" fill="#2a2ae0"/><rect x="225.9" y="620.2" width="2.6" height="1.8" fill="#6a6aee"/><rect x="478.3" y="620.9" width="2.6" height="1.8" fill="#2a2ae0"/><rect x="301.3" y="620.2" width="2.6" height="1.8" fill="#6a6aee"/><rect x="182.4" y="619.5" width="2.6" height="1.8" fill="#2a2ae0"/><rect x="405.9" y="617.2" width="2.6" height="1.8" fill="#6a6aee"/><rect x="270.6" y="618.2" width="2.6" height="1.8" fill="#2a2ae0"/><rect x="380.9" y="618.1" width="2.6" height="1.8" fill="#2a2ae0"/><rect x="266.4" y="618.9" width="2.6" height="1.8" fill="#6a6aee"/><rect x="360.9" y="619.0" width="2.6" height="1.8" fill="#2a2ae0"/><rect x="379.3" y="618.7" width="2.6" height="1.8" fill="#2a2ae0"/><rect x="380.0" y="619.7" width="2.6" height="1.8" fill="#2a2ae0"/><rect x="247.1" y="620.2" width="2.6" height="1.8" fill="#2a2ae0"/><rect x="494.8" y="618.7" width="2.6" height="1.8" fill="#6a6aee"/><rect x="198.4" y="617.9" width="2.6" height="1.8" fill="#6a6aee"/><rect x="228.5" y="621.2" width="2.6" height="1.8" fill="#2a2ae0"/><rect x="277.1" y="620.5" width="2.6" height="1.8" fill="#6a6aee"/><rect x="379.1" y="620.3" width="2.6" height="1.8" fill="#2a2ae0"/><rect x="215.3" y="616.2" width="2.6" height="1.8" fill="#2a2ae0"/><rect x="351.8" y="622.2" width="2.6" height="1.8" fill="#2a2ae0"/><rect x="483.8" y="620.4" width="2.6" height="1.8" fill="#2a2ae0"/><rect x="378.8" y="621.1" width="2.6" height="1.8" fill="#2a2ae0"/><rect x="322.2" y="618.9" width="2.6" height="1.8" fill="#2a2ae0"/><rect x="257.9" y="620.6" width="2.6" height="1.8" fill="#2a2ae0"/><rect x="203.8" y="620.5" width="2.6" height="1.8" fill="#2a2ae0"/><rect x="304.5" y="621.4" width="2.6" height="1.8" fill="#2a2ae0"/><rect x="422.5" y="619.9" width="2.6" height="1.8" fill="#2a2ae0"/><rect x="198.6" y="620.9" width="2.6" height="1.8" fill="#2a2ae0"/><rect x="320.8" y="619.4" width="2.6" height="1.8" fill="#2a2ae0"/><rect x="427.0" y="618.9" width="2.6" height="1.8" fill="#2a2ae0"/><rect x="327.7" y="617.1" width="2.6" height="1.8" fill="#2a2ae0"/><rect x="549.2" y="618.6" width="2.6" height="1.8" fill="#2a2ae0"/><rect x="208.8" y="619.6" width="2.6" height="1.8" fill="#2a2ae0"/><rect x="369.7" y="618.4" width="2.6" height="1.8" fill="#6a6aee"/><rect x="406.1" y="618.2" width="2.6" height="1.8" fill="#6a6aee"/><rect x="338.8" y="619.9" width="2.6" height="1.8" fill="#2a2ae0"/><rect x="367.7" y="617.3" width="2.6" height="1.8" fill="#2a2ae0"/><rect x="197.3" y="619.4" width="2.6" height="1.8" fill="#2a2ae0"/><rect x="391.4" y="619.9" width="2.6" height="1.8" fill="#2a2ae0"/><rect x="265.4" y="617.5" width="2.6" height="1.8" fill="#2a2ae0"/><rect x="215.4" y="619.6" width="2.6" height="1.8" fill="#2a2ae0"/><rect x="439.4" y="618.4" width="2.6" height="1.8" fill="#2a2ae0"/><rect x="202.7" y="619.1" width="2.6" height="1.8" fill="#2a2ae0"/><rect x="559.3" y="618.7" width="2.6" height="1.8" fill="#6a6aee"/><rect x="237.0" y="618.8" width="2.6" height="1.8" fill="#2a2ae0"/><rect x="281.2" y="620.9" width="2.6" height="1.8" fill="#2a2ae0"/><rect x="278.4" y="620.6" width="2.6" height="1.8" fill="#2a2ae0"/><rect x="340.8" y="618.4" width="2.6" height="1.8" fill="#2a2ae0"/><rect x="297.1" y="621.1" width="2.6" height="1.8" fill="#6a6aee"/><rect x="279.2" y="617.9" width="2.6" height="1.8" fill="#2a2ae0"/><rect x="201.7" y="618.4" width="2.6" height="1.8" fill="#2a2ae0"/><rect x="366.8" y="619.3" width="2.6" height="1.8" fill="#2a2ae0"/><rect x="320.2" y="619.9" width="2.6" height="1.8" fill="#6a6aee"/><rect x="392.2" y="618.8" width="2.6" height="1.8" fill="#2a2ae0"/><rect x="300.8" y="618.3" width="2.6" height="1.8" fill="#2a2ae0"/><rect x="304.3" y="619.3" width="2.6" height="1.8" fill="#2a2ae0"/><rect x="450.6" y="618.8" width="2.6" height="1.8" fill="#6a6aee"/><rect x="350.2" y="618.8" width="2.6" height="1.8" fill="#6a6aee"/><rect x="203.8" y="618.0" width="2.6" height="1.8" fill="#2a2ae0"/><rect x="407.4" y="620.3" width="2.6" height="1.8" fill="#2a2ae0"/><rect x="530.7" y="619.9" width="2.6" height="1.8" fill="#2a2ae0"/><rect x="261.8" y="618.2" width="2.6" height="1.8" fill="#6a6aee"/><rect x="237.1" y="620.3" width="2.6" height="1.8" fill="#2a2ae0"/><rect x="218.0" y="619.2" width="2.6" height="1.8" fill="#2a2ae0"/><rect x="524.4" y="619.8" width="2.6" height="1.8" fill="#2a2ae0"/><rect x="197.8" y="620.0" width="2.6" height="1.8" fill="#6a6aee"/><rect x="293.0" y="619.8" width="2.6" height="1.8" fill="#2a2ae0"/><rect x="393.9" y="621.2" width="2.6" height="1.8" fill="#2a2ae0"/><rect x="484.2" y="619.4" width="2.6" height="1.8" fill="#2a2ae0"/><rect x="388.3" y="619.8" width="2.6" height="1.8" fill="#2a2ae0"/><rect x="357.6" y="619.4" width="2.6" height="1.8" fill="#2a2ae0"/><rect x="225.2" y="618.3" width="2.6" height="1.8" fill="#6a6aee"/><rect x="228.2" y="623.3" width="2.6" height="1.8" fill="#6a6aee"/><rect x="381.0" y="617.7" width="2.6" height="1.8" fill="#2a2ae0"/><rect x="313.5" y="619.6" width="2.6" height="1.8" fill="#6a6aee"/><rect x="217.2" y="618.1" width="2.6" height="1.8" fill="#2a2ae0"/><rect x="508.6" y="619.2" width="2.6" height="1.8" fill="#2a2ae0"/><rect x="284.5" y="619.5" width="2.6" height="1.8" fill="#6a6aee"/><rect x="408.3" y="620.7" width="2.6" height="1.8" fill="#6a6aee"/><rect x="307.9" y="619.4" width="2.6" height="1.8" fill="#2a2ae0"/><rect x="275.5" y="619.6" width="2.6" height="1.8" fill="#2a2ae0"/><rect x="294.7" y="618.8" width="2.6" height="1.8" fill="#2a2ae0"/><rect x="393.4" y="620.9" width="2.6" height="1.8" fill="#2a2ae0"/><rect x="407.1" y="620.5" width="2.6" height="1.8" fill="#2a2ae0"/><rect x="194.7" y="619.0" width="2.6" height="1.8" fill="#2a2ae0"/><rect x="231.9" y="619.6" width="2.6" height="1.8" fill="#2a2ae0"/><rect x="315.4" y="618.3" width="2.6" height="1.8" fill="#2a2ae0"/><rect x="246.1" y="620.9" width="2.6" height="1.8" fill="#6a6aee"/><rect x="307.4" y="621.0" width="2.6" height="1.8" fill="#2a2ae0"/><rect x="238.3" y="617.5" width="2.6" height="1.8" fill="#2a2ae0"/><rect x="369.5" y="619.0" width="2.6" height="1.8" fill="#2a2ae0"/><rect x="244.0" y="619.5" width="2.6" height="1.8" fill="#2a2ae0"/><rect x="373.6" y="619.0" width="2.6" height="1.8" fill="#2a2ae0"/><rect x="258.9" y="620.2" width="2.6" height="1.8" fill="#2a2ae0"/><rect x="272.7" y="620.6" width="2.6" height="1.8" fill="#6a6aee"/><rect x="187.7" y="618.5" width="2.6" height="1.8" fill="#6a6aee"/><rect x="366.6" y="620.0" width="2.6" height="1.8" fill="#2a2ae0"/><rect x="268.7" y="618.0" width="2.6" height="1.8" fill="#2a2ae0"/><rect x="240.1" y="619.6" width="2.6" height="1.8" fill="#2a2ae0"/><rect x="377.8" y="619.9" width="2.6" height="1.8" fill="#2a2ae0"/><rect x="400.7" y="619.8" width="2.6" height="1.8" fill="#2a2ae0"/><rect x="274.9" y="621.3" width="2.6" height="1.8" fill="#2a2ae0"/><rect x="415.7" y="619.9" width="2.6" height="1.8" fill="#6a6aee"/><rect x="356.6" y="618.5" width="2.6" height="1.8" fill="#6a6aee"/><rect x="186.1" y="620.8" width="2.6" height="1.8" fill="#2a2ae0"/><rect x="215.3" y="619.1" width="2.6" height="1.8" fill="#2a2ae0"/><rect x="459.4" y="620.1" width="2.6" height="1.8" fill="#2a2ae0"/><rect x="256.9" y="620.5" width="2.6" height="1.8" fill="#2a2ae0"/><rect x="307.1" y="623.8" width="2.6" height="1.8" fill="#2a2ae0"/><rect x="363.3" y="619.0" width="2.6" height="1.8" fill="#2a2ae0"/><rect x="476.6" y="619.6" width="2.6" height="1.8" fill="#2a2ae0"/><rect x="418.3" y="618.3" width="2.6" height="1.8" fill="#2a2ae0"/><rect x="216.9" y="619.4" width="2.6" height="1.8" fill="#2a2ae0"/><rect x="547.1" y="618.8" width="2.6" height="1.8" fill="#2a2ae0"/><rect x="233.0" y="621.0" width="2.6" height="1.8" fill="#6a6aee"/><rect x="463.6" y="617.7" width="2.6" height="1.8" fill="#6a6aee"/><rect x="405.2" y="617.5" width="2.6" height="1.8" fill="#2a2ae0"/><rect x="548.1" y="620.3" width="2.6" height="1.8" fill="#2a2ae0"/><rect x="256.8" y="618.7" width="2.6" height="1.8" fill="#2a2ae0"/><rect x="525.3" y="619.8" width="2.6" height="1.8" fill="#2a2ae0"/><rect x="330.2" y="620.1" width="2.6" height="1.8" fill="#2a2ae0"/><rect x="538.0" y="618.0" width="2.6" height="1.8" fill="#2a2ae0"/><rect x="214.9" y="618.2" width="2.6" height="1.8" fill="#2a2ae0"/><rect x="406.9" y="617.7" width="2.6" height="1.8" fill="#6a6aee"/><rect x="366.9" y="620.2" width="2.6" height="1.8" fill="#6a6aee"/><rect x="340.3" y="619.7" width="2.6" height="1.8" fill="#2a2ae0"/><rect x="354.9" y="619.2" width="2.6" height="1.8" fill="#2a2ae0"/><rect x="501.2" y="620.1" width="2.6" height="1.8" fill="#2a2ae0"/><rect x="215.3" y="619.3" width="2.6" height="1.8" fill="#2a2ae0"/><rect x="431.9" y="621.0" width="2.6" height="1.8" fill="#2a2ae0"/><rect x="284.6" y="620.7" width="2.6" height="1.8" fill="#2a2ae0"/><rect x="518.4" y="619.4" width="2.6" height="1.8" fill="#6a6aee"/><rect x="331.1" y="616.5" width="2.6" height="1.8" fill="#2a2ae0"/><rect x="381.3" y="619.6" width="2.6" height="1.8" fill="#2a2ae0"/><rect x="248.3" y="620.9" width="2.6" height="1.8" fill="#6a6aee"/><rect x="276.8" y="619.1" width="2.6" height="1.8" fill="#2a2ae0"/><rect x="220.1" y="617.2" width="2.6" height="1.8" fill="#2a2ae0"/><rect x="324.4" y="618.8" width="2.6" height="1.8" fill="#6a6aee"/><rect x="519.9" y="620.7" width="2.6" height="1.8" fill="#2a2ae0"/><rect x="431.9" y="620.2" width="2.6" height="1.8" fill="#2a2ae0"/><rect x="379.4" y="618.4" width="2.6" height="1.8" fill="#2a2ae0"/><rect x="319.5" y="617.2" width="2.6" height="1.8" fill="#6a6aee"/><rect x="203.5" y="620.6" width="2.6" height="1.8" fill="#2a2ae0"/><rect x="351.2" y="618.0" width="2.6" height="1.8" fill="#2a2ae0"/><rect x="518.8" y="619.6" width="2.6" height="1.8" fill="#2a2ae0"/><rect x="233.8" y="619.3" width="2.6" height="1.8" fill="#6a6aee"/><rect x="404.1" y="619.3" width="2.6" height="1.8" fill="#2a2ae0"/><rect x="464.5" y="619.5" width="2.6" height="1.8" fill="#2a2ae0"/><rect x="387.7" y="616.6" width="2.6" height="1.8" fill="#2a2ae0"/><rect x="486.3" y="620.8" width="2.6" height="1.8" fill="#2a2ae0"/><rect x="546.0" y="619.3" width="2.6" height="1.8" fill="#2a2ae0"/><rect x="399.4" y="618.7" width="2.6" height="1.8" fill="#6a6aee"/><rect x="234.9" y="617.1" width="2.6" height="1.8" fill="#2a2ae0"/><rect x="299.9" y="619.3" width="2.6" height="1.8" fill="#2a2ae0"/><rect x="294.5" y="617.2" width="2.6" height="1.8" fill="#6a6aee"/><rect x="252.7" y="621.8" width="2.6" height="1.8" fill="#2a2ae0"/><rect x="303.3" y="619.0" width="2.6" height="1.8" fill="#2a2ae0"/><rect x="330.9" y="619.8" width="2.6" height="1.8" fill="#2a2ae0"/><rect x="259.1" y="620.7" width="2.6" height="1.8" fill="#6a6aee"/><rect x="422.8" y="619.1" width="2.6" height="1.8" fill="#2a2ae0"/><rect x="239.5" y="619.7" width="2.6" height="1.8" fill="#2a2ae0"/><rect x="435.5" y="618.6" width="2.6" height="1.8" fill="#2a2ae0"/><rect x="319.1" y="620.9" width="2.6" height="1.8" fill="#2a2ae0"/><rect x="494.5" y="619.1" width="2.6" height="1.8" fill="#2a2ae0"/><rect x="274.0" y="621.0" width="2.6" height="1.8" fill="#2a2ae0"/><rect x="298.0" y="620.3" width="2.6" height="1.8" fill="#2a2ae0"/><rect x="547.6" y="619.0" width="2.6" height="1.8" fill="#2a2ae0"/><rect x="537.5" y="618.1" width="2.6" height="1.8" fill="#2a2ae0"/><rect x="330.4" y="620.0" width="2.6" height="1.8" fill="#2a2ae0"/><rect x="379.0" y="618.5" width="2.6" height="1.8" fill="#2a2ae0"/><rect x="310.0" y="620.8" width="2.6" height="1.8" fill="#2a2ae0"/><rect x="970.5" y="419.1" width="2.2" height="2.0" fill="#6a6aee"/><rect x="788.9" y="495.8" width="2.2" height="2.0" fill="#6a6aee"/><rect x="794.9" y="499.7" width="2.2" height="2.0" fill="#6a6aee"/><rect x="790.7" y="503.2" width="2.2" height="2.0" fill="#2a2ae0"/><rect x="763.4" y="515.8" width="2.2" height="2.0" fill="#6a6aee"/><rect x="785.2" y="515.8" width="2.2" height="2.0" fill="#2a2ae0"/><rect x="798.0" y="517.7" width="2.2" height="2.0" fill="#6a6aee"/><rect x="861.0" y="502.8" width="2.2" height="2.0" fill="#6a6aee"/><rect x="861.0" y="508.4" width="2.2" height="2.0" fill="#6a6aee"/><rect x="861.0" y="523.0" width="2.2" height="2.0" fill="#2a2ae0"/><rect x="868.6" y="524.7" width="2.2" height="2.0" fill="#6a6aee"/><rect x="880.8" y="511.9" width="2.2" height="2.0" fill="#6a6aee"/><rect x="888.5" y="503.0" width="2.2" height="2.0" fill="#6a6aee"/><rect x="897.3" y="503.0" width="2.2" height="2.0" fill="#6a6aee"/><rect x="892.0" y="517.5" width="2.2" height="2.0" fill="#6a6aee"/><rect x="897.3" y="515.4" width="2.2" height="2.0" fill="#6a6aee"/><rect x="900.8" y="519.4" width="2.2" height="2.0" fill="#6a6aee"/><rect x="884.9" y="529.8" width="2.2" height="2.0" fill="#6a6aee"/><rect x="888.5" y="537.1" width="2.2" height="2.0" fill="#6a6aee"/><rect x="826.6" y="531.5" width="2.2" height="2.0" fill="#2a2ae0"/><rect x="845.0" y="535.2" width="2.2" height="2.0" fill="#6a6aee"/><rect x="816.0" y="542.9" width="2.2" height="2.0" fill="#6a6aee"/><rect x="819.9" y="553.1" width="2.2" height="2.0" fill="#6a6aee"/><rect x="846.5" y="544.7" width="2.2" height="2.0" fill="#2a2ae0"/><rect x="853.5" y="544.7" width="2.2" height="2.0" fill="#2a2ae0"/><rect x="850.2" y="549.7" width="2.2" height="2.0" fill="#6a6aee"/><rect x="845.0" y="556.7" width="2.2" height="2.0" fill="#6a6aee"/><rect x="866.8" y="546.4" width="2.2" height="2.0" fill="#2a2ae0"/><rect x="873.8" y="544.7" width="2.2" height="2.0" fill="#2a2ae0"/><rect x="841.4" y="568.1" width="2.2" height="2.0" fill="#2a2ae0"/><rect x="868.6" y="569.9" width="2.2" height="2.0" fill="#2a2ae0"/><rect x="884.7" y="568.1" width="2.2" height="2.0" fill="#6a6aee"/><rect x="890.3" y="571.4" width="2.2" height="2.0" fill="#6a6aee"/><rect x="826.6" y="573.2" width="2.2" height="2.0" fill="#6a6aee"/><rect x="922.0" y="537.1" width="2.2" height="2.0" fill="#2a2ae0"/><rect x="924.0" y="553.1" width="2.2" height="2.0" fill="#6a6aee"/><rect x="925.8" y="573.2" width="2.2" height="2.0" fill="#2a2ae0"/><rect x="898.7" y="575.0" width="2.2" height="2.0" fill="#6a6aee"/><rect x="877.7" y="574.0" width="2.2" height="2.0" fill="#2a2ae0"/><rect x="910.0" y="580.2" width="2.2" height="2.0" fill="#2a2ae0"/><rect x="873.7" y="584.0" width="2.2" height="2.0" fill="#6a6aee"/><rect x="890.3" y="591.6" width="2.2" height="2.0" fill="#2a2ae0"/><rect x="897.3" y="594.7" width="2.2" height="2.0" fill="#2a2ae0"/><rect x="915.3" y="596.5" width="2.2" height="2.0" fill="#2a2ae0"/><rect x="804.7" y="601.7" width="2.2" height="2.0" fill="#2a2ae0"/><rect x="819.9" y="601.7" width="2.2" height="2.0" fill="#6a6aee"/><rect x="875.4" y="601.7" width="2.2" height="2.0" fill="#6a6aee"/><rect x="901.0" y="603.5" width="2.2" height="2.0" fill="#2a2ae0"/><rect x="965.2" y="528.2" width="2.2" height="2.0" fill="#6a6aee"/><rect x="985.3" y="530.0" width="2.2" height="2.0" fill="#2a2ae0"/><rect x="997.6" y="523.0" width="2.2" height="2.0" fill="#2a2ae0"/><rect x="997.6" y="587.7" width="2.2" height="2.0" fill="#6a6aee"/><rect x="940.7" y="608.2" width="2.2" height="2.0" fill="#2a2ae0"/><rect x="946.0" y="609.0" width="2.2" height="2.0" fill="#2a2ae0"/><rect x="976.6" y="610.8" width="2.2" height="2.0" fill="#6a6aee"/><rect x="985.3" y="611.2" width="2.2" height="2.0" fill="#2a2ae0"/><rect x="1030.2" y="415.1" width="2.2" height="2.0" fill="#6a6aee"/><rect x="1024.3" y="504.5" width="2.2" height="2.0" fill="#2a2ae0"/><rect x="1051.7" y="501.4" width="2.2" height="2.0" fill="#6a6aee"/><rect x="1067.4" y="524.9" width="2.2" height="2.0" fill="#6a6aee"/><rect x="1037.2" y="533.1" width="2.2" height="2.0" fill="#6a6aee"/><rect x="1031.4" y="539.0" width="2.2" height="2.0" fill="#2a2ae0"/><rect x="1026.3" y="541.0" width="2.2" height="2.0" fill="#6a6aee"/><rect x="1078.4" y="554.7" width="2.2" height="2.0" fill="#2a2ae0"/><rect x="1043.9" y="562.1" width="2.2" height="2.0" fill="#6a6aee"/><rect x="1006.6" y="562.1" width="2.2" height="2.0" fill="#2a2ae0"/><rect x="997.6" y="588.0" width="2.2" height="2.0" fill="#2a2ae0"/><rect x="1045.9" y="582.1" width="2.2" height="2.0" fill="#6a6aee"/><rect x="1051.7" y="583.7" width="2.2" height="2.0" fill="#6a6aee"/><rect x="1045.9" y="594.7" width="2.2" height="2.0" fill="#6a6aee"/><rect x="1056.8" y="596.6" width="2.2" height="2.0" fill="#2a2ae0"/><rect x="1080.4" y="594.7" width="2.2" height="2.0" fill="#6a6aee"/><rect x="1094.1" y="579.0" width="2.2" height="2.0" fill="#6a6aee"/><rect x="875.4" y="593.0" width="2.2" height="2.0" fill="#a0e040"/><rect x="798.9" y="610.8" width="2.4" height="1.8" fill="#6a6aee"/><rect x="924.3" y="611.3" width="2.4" height="1.8" fill="#2a2ae0"/><rect x="922.8" y="607.4" width="2.4" height="1.8" fill="#2a2ae0"/><rect x="839.9" y="611.2" width="2.4" height="1.8" fill="#2a2ae0"/><rect x="877.5" y="611.3" width="2.4" height="1.8" fill="#2a2ae0"/><rect x="817.7" y="610.7" width="2.4" height="1.8" fill="#2a2ae0"/><rect x="793.7" y="611.4" width="2.4" height="1.8" fill="#2a2ae0"/><rect x="846.1" y="609.6" width="2.4" height="1.8" fill="#2a2ae0"/><rect x="794.1" y="610.6" width="2.4" height="1.8" fill="#2a2ae0"/><rect x="853.3" y="609.3" width="2.4" height="1.8" fill="#2a2ae0"/><rect x="916.6" y="607.2" width="2.4" height="1.8" fill="#6a6aee"/><rect x="879.8" y="610.2" width="2.4" height="1.8" fill="#2a2ae0"/><rect x="764.1" y="609.9" width="2.4" height="1.8" fill="#6a6aee"/><rect x="879.7" y="609.7" width="2.4" height="1.8" fill="#2a2ae0"/><rect x="788.7" y="609.6" width="2.4" height="1.8" fill="#2a2ae0"/><rect x="923.6" y="610.2" width="2.4" height="1.8" fill="#2a2ae0"/><rect x="819.9" y="610.6" width="2.4" height="1.8" fill="#6a6aee"/><rect x="893.1" y="609.8" width="2.4" height="1.8" fill="#2a2ae0"/><rect x="787.1" y="610.5" width="2.4" height="1.8" fill="#6a6aee"/><rect x="838.8" y="612.9" width="2.4" height="1.8" fill="#6a6aee"/><rect x="839.6" y="610.1" width="2.4" height="1.8" fill="#6a6aee"/><rect x="782.9" y="611.5" width="2.4" height="1.8" fill="#2a2ae0"/><rect x="796.1" y="611.3" width="2.4" height="1.8" fill="#2a2ae0"/><rect x="765.5" y="611.9" width="2.4" height="1.8" fill="#6a6aee"/><rect x="921.8" y="609.3" width="2.4" height="1.8" fill="#2a2ae0"/><rect x="881.4" y="608.7" width="2.4" height="1.8" fill="#6a6aee"/><rect x="783.8" y="611.8" width="2.4" height="1.8" fill="#2a2ae0"/><rect x="796.9" y="609.3" width="2.4" height="1.8" fill="#2a2ae0"/><rect x="897.3" y="609.7" width="2.4" height="1.8" fill="#6a6aee"/><rect x="837.6" y="612.7" width="2.4" height="1.8" fill="#2a2ae0"/><rect x="773.6" y="611.0" width="2.4" height="1.8" fill="#2a2ae0"/><rect x="863.8" y="611.3" width="2.4" height="1.8" fill="#2a2ae0"/><rect x="795.5" y="609.4" width="2.4" height="1.8" fill="#2a2ae0"/><rect x="909.6" y="609.9" width="2.4" height="1.8" fill="#2a2ae0"/><rect x="782.6" y="610.7" width="2.4" height="1.8" fill="#2a2ae0"/><rect x="836.4" y="608.8" width="2.4" height="1.8" fill="#2a2ae0"/><rect x="833.7" y="609.4" width="2.4" height="1.8" fill="#2a2ae0"/><rect x="880.1" y="611.6" width="2.4" height="1.8" fill="#2a2ae0"/><rect x="871.7" y="610.7" width="2.4" height="1.8" fill="#2a2ae0"/><rect x="801.1" y="609.2" width="2.4" height="1.8" fill="#2a2ae0"/><rect x="785.1" y="608.8" width="2.4" height="1.8" fill="#6a6aee"/><rect x="859.6" y="611.1" width="2.4" height="1.8" fill="#6a6aee"/><rect x="799.3" y="610.6" width="2.4" height="1.8" fill="#2a2ae0"/><rect x="890.5" y="611.1" width="2.4" height="1.8" fill="#2a2ae0"/><rect x="768.2" y="608.8" width="2.4" height="1.8" fill="#2a2ae0"/><rect x="921.1" y="610.4" width="2.4" height="1.8" fill="#2a2ae0"/><rect x="801.2" y="610.0" width="2.4" height="1.8" fill="#6a6aee"/><rect x="797.8" y="609.0" width="2.4" height="1.8" fill="#2a2ae0"/><rect x="911.8" y="607.9" width="2.4" height="1.8" fill="#2a2ae0"/><rect x="787.0" y="612.3" width="2.4" height="1.8" fill="#2a2ae0"/><rect x="920.6" y="610.5" width="2.4" height="1.8" fill="#2a2ae0"/><rect x="792.5" y="610.6" width="2.4" height="1.8" fill="#2a2ae0"/><rect x="779.2" y="609.6" width="2.4" height="1.8" fill="#6a6aee"/><rect x="907.0" y="610.4" width="2.4" height="1.8" fill="#6a6aee"/><rect x="852.6" y="610.3" width="2.4" height="1.8" fill="#6a6aee"/><rect x="843.9" y="609.1" width="2.4" height="1.8" fill="#6a6aee"/><rect x="774.7" y="609.2" width="2.4" height="1.8" fill="#2a2ae0"/><rect x="850.9" y="610.0" width="2.4" height="1.8" fill="#2a2ae0"/><rect x="883.4" y="611.5" width="2.4" height="1.8" fill="#2a2ae0"/><rect x="897.2" y="610.8" width="2.4" height="1.8" fill="#2a2ae0"/><rect x="868.0" y="609.1" width="2.4" height="1.8" fill="#2a2ae0"/><rect x="831.9" y="612.8" width="2.4" height="1.8" fill="#2a2ae0"/><rect x="819.5" y="612.4" width="2.4" height="1.8" fill="#2a2ae0"/><rect x="881.0" y="611.7" width="2.4" height="1.8" fill="#2a2ae0"/><rect x="821.9" y="608.4" width="2.4" height="1.8" fill="#2a2ae0"/><rect x="886.3" y="611.3" width="2.4" height="1.8" fill="#6a6aee"/><rect x="887.3" y="611.6" width="2.4" height="1.8" fill="#2a2ae0"/><rect x="774.2" y="611.7" width="2.4" height="1.8" fill="#2a2ae0"/><rect x="846.8" y="611.5" width="2.4" height="1.8" fill="#2a2ae0"/><rect x="828.4" y="609.0" width="2.4" height="1.8" fill="#6a6aee"/><rect x="881.4" y="609.2" width="2.4" height="1.8" fill="#6a6aee"/><rect x="910.8" y="611.3" width="2.4" height="1.8" fill="#2a2ae0"/><rect x="873.0" y="608.7" width="2.4" height="1.8" fill="#6a6aee"/><rect x="832.2" y="610.8" width="2.4" height="1.8" fill="#6a6aee"/><rect x="834.0" y="609.8" width="2.4" height="1.8" fill="#2a2ae0"/><rect x="803.2" y="610.0" width="2.4" height="1.8" fill="#2a2ae0"/><rect x="777.4" y="611.4" width="2.4" height="1.8" fill="#2a2ae0"/><rect x="921.9" y="608.7" width="2.4" height="1.8" fill="#6a6aee"/><rect x="898.4" y="608.0" width="2.4" height="1.8" fill="#6a6aee"/><rect x="884.7" y="610.2" width="2.4" height="1.8" fill="#2a2ae0"/><rect x="765.4" y="611.2" width="2.4" height="1.8" fill="#2a2ae0"/><rect x="906.5" y="611.2" width="2.4" height="1.8" fill="#6a6aee"/><rect x="888.3" y="609.8" width="2.4" height="1.8" fill="#6a6aee"/><rect x="891.5" y="609.7" width="2.4" height="1.8" fill="#6a6aee"/><rect x="813.1" y="610.2" width="2.4" height="1.8" fill="#2a2ae0"/><rect x="821.8" y="607.3" width="2.4" height="1.8" fill="#2a2ae0"/><rect x="848.5" y="609.6" width="2.4" height="1.8" fill="#2a2ae0"/><rect x="849.8" y="611.4" width="2.4" height="1.8" fill="#6a6aee"/><rect x="874.4" y="609.8" width="2.4" height="1.8" fill="#6a6aee"/><rect x="776.6" y="610.5" width="2.4" height="1.8" fill="#6a6aee"/><rect x="764.2" y="611.3" width="2.4" height="1.8" fill="#2a2ae0"/><rect x="878.7" y="611.0" width="2.4" height="1.8" fill="#2a2ae0"/><rect x="874.0" y="610.3" width="2.4" height="1.8" fill="#2a2ae0"/><rect x="883.6" y="610.3" width="2.4" height="1.8" fill="#2a2ae0"/><rect x="766.5" y="609.4" width="2.4" height="1.8" fill="#2a2ae0"/><rect x="1057.6" y="610.3" width="2.4" height="1.8" fill="#2a2ae0"/><rect x="1083.6" y="613.1" width="2.4" height="1.8" fill="#2a2ae0"/><rect x="1080.5" y="609.7" width="2.4" height="1.8" fill="#2a2ae0"/><rect x="1086.7" y="609.4" width="2.4" height="1.8" fill="#2a2ae0"/><rect x="1063.2" y="610.8" width="2.4" height="1.8" fill="#2a2ae0"/><rect x="1045.9" y="610.6" width="2.4" height="1.8" fill="#2a2ae0"/><rect x="1066.7" y="610.8" width="2.4" height="1.8" fill="#2a2ae0"/><rect x="1074.6" y="610.9" width="2.4" height="1.8" fill="#2a2ae0"/><rect x="1103.2" y="610.2" width="2.4" height="1.8" fill="#2a2ae0"/><rect x="1091.2" y="609.8" width="2.4" height="1.8" fill="#2a2ae0"/><rect x="1055.7" y="611.2" width="2.4" height="1.8" fill="#2a2ae0"/><rect x="1069.5" y="611.0" width="2.4" height="1.8" fill="#2a2ae0"/><rect x="1086.4" y="609.0" width="2.4" height="1.8" fill="#2a2ae0"/><rect x="1050.7" y="611.0" width="2.4" height="1.8" fill="#2a2ae0"/><rect x="1100.9" y="609.5" width="2.4" height="1.8" fill="#2a2ae0"/><rect x="1046.8" y="612.1" width="2.4" height="1.8" fill="#2a2ae0"/><rect x="1094.7" y="610.8" width="2.4" height="1.8" fill="#2a2ae0"/><rect x="1093.2" y="612.4" width="2.4" height="1.8" fill="#2a2ae0"/><rect x="1085.2" y="610.5" width="2.4" height="1.8" fill="#2a2ae0"/><rect x="1056.4" y="610.6" width="2.4" height="1.8" fill="#2a2ae0"/><rect x="1099.3" y="611.3" width="2.4" height="1.8" fill="#2a2ae0"/><rect x="1080.2" y="611.7" width="2.4" height="1.8" fill="#2a2ae0"/><rect x="1084.7" y="610.7" width="2.4" height="1.8" fill="#2a2ae0"/><rect x="1050.8" y="611.0" width="2.4" height="1.8" fill="#2a2ae0"/><rect x="1104.0" y="609.4" width="2.4" height="1.8" fill="#2a2ae0"/><rect x="1079.2" y="611.5" width="2.4" height="1.8" fill="#2a2ae0"/><rect x="1058.4" y="610.7" width="2.4" height="1.8" fill="#2a2ae0"/><rect x="1096.2" y="610.6" width="2.4" height="1.8" fill="#2a2ae0"/><rect x="1052.8" y="611.4" width="2.4" height="1.8" fill="#2a2ae0"/><rect x="1088.4" y="610.3" width="2.4" height="1.8" fill="#2a2ae0"/><rect x="1053.3" y="610.7" width="2.4" height="1.8" fill="#2a2ae0"/><rect x="1067.0" y="609.8" width="2.4" height="1.8" fill="#2a2ae0"/><rect x="1076.4" y="611.1" width="2.4" height="1.8" fill="#2a2ae0"/><rect x="1092.8" y="611.0" width="2.4" height="1.8" fill="#2a2ae0"/><rect x="1062.1" y="609.3" width="2.4" height="1.8" fill="#2a2ae0"/><rect x="1058.4" y="611.7" width="2.4" height="1.8" fill="#2a2ae0"/><rect x="1056.6" y="610.7" width="2.4" height="1.8" fill="#2a2ae0"/><rect x="1066.9" y="611.5" width="2.4" height="1.8" fill="#2a2ae0"/><rect x="1083.5" y="608.5" width="2.4" height="1.8" fill="#2a2ae0"/><rect x="1048.0" y="610.9" width="2.4" height="1.8" fill="#2a2ae0"/><rect x="1084.8" y="610.9" width="2.4" height="1.8" fill="#2a2ae0"/><rect x="1046.8" y="609.9" width="2.4" height="1.8" fill="#2a2ae0"/><rect x="1071.3" y="611.3" width="2.4" height="1.8" fill="#2a2ae0"/><rect x="1087.7" y="611.2" width="2.4" height="1.8" fill="#2a2ae0"/><rect x="1050.6" y="611.3" width="2.4" height="1.8" fill="#2a2ae0"/><rect x="1085.0" y="610.0" width="2.4" height="1.8" fill="#c8d020"/><rect x="1092.0" y="611.0" width="2.4" height="1.8" fill="#40c040"/><rect x="1098.0" y="610.0" width="2.4" height="1.8" fill="#e0a020"/><rect x="1088.0" y="612.0" width="2.4" height="1.8" fill="#40c0e0"/><rect x="1000.0" y="610.0" width="2.4" height="1.8" fill="#2323d8"/><rect x="1008.0" y="610.0" width="2.4" height="1.8" fill="#2323d8"/><rect x="1023.0" y="611.0" width="2.4" height="1.8" fill="#2323d8"/><rect x="935.0" y="611.0" width="2.4" height="1.8" fill="#2323d8"/><rect x="960.0" y="610.0" width="2.4" height="1.8" fill="#2323d8"/><rect x="986.0" y="612.0" width="2.4" height="1.8" fill="#6f6fe6"/><rect x="926.0" y="611.0" width="2.4" height="1.8" fill="#a0e040"/><rect x="757.5" y="447.6" width="2.5" height="1.6" fill="#6a6aee"/><rect x="757.5" y="499.3" width="2.5" height="1.6" fill="#2a2ae0"/><rect x="757.5" y="436.3" width="2.5" height="1.6" fill="#6a6aee"/><rect x="757.5" y="466.5" width="2.5" height="1.6" fill="#9c9cf2"/><rect x="757.5" y="508.2" width="2.5" height="1.6" fill="#9c9cf2"/><rect x="757.5" y="525.7" width="2.5" height="1.6" fill="#2a2ae0"/><rect x="757.5" y="516.4" width="2.5" height="1.6" fill="#6a6aee"/><rect x="757.5" y="564.6" width="2.5" height="1.6" fill="#a0e060"/><rect x="757.5" y="537.3" width="2.5" height="1.6" fill="#e06060"/><rect x="757.5" y="489.1" width="2.5" height="1.6" fill="#2a2ae0"/><rect x="757.5" y="605.5" width="2.5" height="1.6" fill="#a0e060"/><rect x="757.5" y="423.5" width="2.5" height="1.6" fill="#6a6aee"/><rect x="757.5" y="447.0" width="2.5" height="1.6" fill="#9c9cf2"/><rect x="757.5" y="455.5" width="2.5" height="1.6" fill="#6a6aee"/><rect x="757.5" y="509.9" width="2.5" height="1.6" fill="#6a6aee"/><rect x="757.5" y="601.4" width="2.5" height="1.6" fill="#6a6aee"/><rect x="757.5" y="572.9" width="2.5" height="1.6" fill="#6a6aee"/><rect x="757.5" y="427.3" width="2.5" height="1.6" fill="#9c9cf2"/><rect x="757.5" y="541.4" width="2.5" height="1.6" fill="#2a2ae0"/><rect x="757.5" y="454.1" width="2.5" height="1.6" fill="#6a6aee"/><rect x="757.5" y="573.8" width="2.5" height="1.6" fill="#2a2ae0"/><rect x="757.5" y="436.5" width="2.5" height="1.6" fill="#9c9cf2"/><rect x="757.5" y="510.7" width="2.5" height="1.6" fill="#6a6aee"/><rect x="757.5" y="516.5" width="2.5" height="1.6" fill="#e0a060"/><rect x="757.5" y="545.9" width="2.5" height="1.6" fill="#a0e060"/><rect x="757.5" y="597.0" width="2.5" height="1.6" fill="#e0a060"/><rect x="757.5" y="508.4" width="2.5" height="1.6" fill="#e0a060"/><rect x="757.5" y="418.6" width="2.5" height="1.6" fill="#6a6aee"/><rect x="757.5" y="460.0" width="2.5" height="1.6" fill="#9c9cf2"/><rect x="757.5" y="548.2" width="2.5" height="1.6" fill="#6a6aee"/><rect x="757.5" y="545.5" width="2.5" height="1.6" fill="#6a6aee"/><rect x="757.5" y="491.4" width="2.5" height="1.6" fill="#9c9cf2"/><rect x="757.5" y="563.8" width="2.5" height="1.6" fill="#e06060"/><rect x="757.5" y="587.8" width="2.5" height="1.6" fill="#e0a060"/><rect x="757.5" y="597.1" width="2.5" height="1.6" fill="#6a6aee"/><rect x="757.5" y="555.5" width="2.5" height="1.6" fill="#2a2ae0"/><rect x="757.5" y="534.6" width="2.5" height="1.6" fill="#e0a060"/><rect x="757.5" y="428.8" width="2.5" height="1.6" fill="#6a6aee"/><rect x="757.5" y="586.3" width="2.5" height="1.6" fill="#9c9cf2"/><rect x="757.5" y="502.0" width="2.5" height="1.6" fill="#6a6aee"/><rect x="757.5" y="584.0" width="2.5" height="1.6" fill="#9c9cf2"/><rect x="757.5" y="565.5" width="2.5" height="1.6" fill="#a0e060"/><rect x="757.5" y="452.9" width="2.5" height="1.6" fill="#6a6aee"/><rect x="757.5" y="494.4" width="2.5" height="1.6" fill="#e0a060"/><rect x="757.5" y="445.9" width="2.5" height="1.6" fill="#9c9cf2"/><rect x="757.5" y="606.4" width="2.5" height="1.6" fill="#6a6aee"/><rect x="757.5" y="425.5" width="2.5" height="1.6" fill="#9c9cf2"/><rect x="757.5" y="516.9" width="2.5" height="1.6" fill="#e0a060"/><rect x="757.5" y="512.9" width="2.5" height="1.6" fill="#6a6aee"/><rect x="757.5" y="539.4" width="2.5" height="1.6" fill="#6a6aee"/><rect x="757.5" y="451.4" width="2.5" height="1.6" fill="#9c9cf2"/><rect x="757.5" y="453.4" width="2.5" height="1.6" fill="#9c9cf2"/><rect x="757.5" y="467.6" width="2.5" height="1.6" fill="#9c9cf2"/><rect x="757.5" y="418.5" width="2.5" height="1.6" fill="#6a6aee"/><rect x="757.5" y="482.3" width="2.5" height="1.6" fill="#e0a060"/><rect x="757.5" y="557.3" width="2.5" height="1.6" fill="#a0e060"/><rect x="757.5" y="488.7" width="2.5" height="1.6" fill="#6a6aee"/><rect x="757.5" y="460.9" width="2.5" height="1.6" fill="#6a6aee"/><rect x="757.5" y="443.7" width="2.5" height="1.6" fill="#9c9cf2"/><rect x="757.5" y="536.4" width="2.5" height="1.6" fill="#6a6aee"/><rect x="757.5" y="527.2" width="2.5" height="1.6" fill="#e0a060"/><rect x="757.5" y="491.2" width="2.5" height="1.6" fill="#9c9cf2"/><rect x="757.5" y="461.3" width="2.5" height="1.6" fill="#6a6aee"/><rect x="757.5" y="468.1" width="2.5" height="1.6" fill="#9c9cf2"/><rect x="757.5" y="442.6" width="2.5" height="1.6" fill="#6a6aee"/><rect x="757.5" y="616.7" width="2.5" height="1.6" fill="#6a6aee"/><rect x="757.5" y="531.2" width="2.5" height="1.6" fill="#e06060"/><rect x="757.5" y="423.7" width="2.5" height="1.6" fill="#6a6aee"/><rect x="757.5" y="498.7" width="2.5" height="1.6" fill="#2a2ae0"/><rect x="757.5" y="532.0" width="2.5" height="1.6" fill="#6a6aee"/></g>
<g><rect x="179.4" y="381" width="3.2" height="1.8" fill="#8c8cf0"/><rect x="179.4" y="385" width="3.2" height="1.8" fill="#8c8cf0"/><rect x="179.4" y="389" width="3.2" height="1.8" fill="#8c8cf0"/><rect x="179.4" y="393" width="3.2" height="1.8" fill="#8c8cf0"/><rect x="179.4" y="397" width="3.2" height="1.8" fill="#8c8cf0"/><rect x="179.4" y="401" width="3.2" height="1.8" fill="#8c8cf0"/><rect x="179.2" y="404" width="3.6" height="217" fill="url(#vstrip)"/><rect x="179.4" y="564.3" width="3.2" height="1.8" fill="#7a9cf4"/><rect x="179.4" y="581.0" width="3.2" height="1.8" fill="#4a7cf0"/><rect x="179.4" y="467.9" width="3.2" height="1.8" fill="#5a8cf0"/><rect x="179.4" y="592.7" width="3.2" height="1.8" fill="#7a9cf4"/><rect x="179.4" y="594.5" width="3.2" height="1.8" fill="#4a7cf0"/><rect x="179.4" y="499.3" width="3.2" height="1.8" fill="#5a8cf0"/><rect x="179.4" y="504.0" width="3.2" height="1.8" fill="#5a8cf0"/><rect x="179.4" y="594.5" width="3.2" height="1.8" fill="#7a9cf4"/><rect x="179.4" y="442.0" width="3.2" height="1.8" fill="#5a8cf0"/><rect x="179.4" y="578.0" width="3.2" height="1.8" fill="#7a9cf4"/><rect x="179.4" y="442.5" width="3.2" height="1.8" fill="#7a9cf4"/><rect x="179.4" y="574.3" width="3.2" height="1.8" fill="#4a7cf0"/><rect x="179.4" y="541.1" width="3.2" height="1.8" fill="#4a7cf0"/><rect x="179.4" y="529.1" width="3.2" height="1.8" fill="#7a9cf4"/><rect x="179.4" y="471.4" width="3.2" height="1.8" fill="#4a7cf0"/><rect x="179.4" y="520.2" width="3.2" height="1.8" fill="#4a7cf0"/><rect x="179.4" y="566.2" width="3.2" height="1.8" fill="#4a7cf0"/><rect x="179.4" y="593.6" width="3.2" height="1.8" fill="#5a8cf0"/><rect x="179.4" y="504.1" width="3.2" height="1.8" fill="#4a7cf0"/><rect x="179.4" y="582.6" width="3.2" height="1.8" fill="#4a7cf0"/><rect x="179.4" y="494.9" width="3.2" height="1.8" fill="#4a7cf0"/><rect x="179.4" y="592.6" width="3.2" height="1.8" fill="#4a7cf0"/><rect x="179.4" y="470.2" width="3.2" height="1.8" fill="#7a9cf4"/><rect x="179.4" y="592.6" width="3.2" height="1.8" fill="#7a9cf4"/><rect x="179.4" y="545.2" width="3.2" height="1.8" fill="#5a8cf0"/><rect x="179.4" y="549.2" width="3.2" height="1.8" fill="#5a8cf0"/><rect x="179.4" y="536.1" width="3.2" height="1.8" fill="#7a9cf4"/><rect x="179.4" y="466.1" width="3.2" height="1.8" fill="#7a9cf4"/><rect x="179.4" y="565.9" width="3.2" height="1.8" fill="#5a8cf0"/><rect x="179.4" y="505.6" width="3.2" height="1.8" fill="#7a9cf4"/><rect x="179.4" y="545.2" width="3.2" height="1.8" fill="#4a7cf0"/><rect x="179.4" y="592.5" width="3.2" height="1.8" fill="#5a8cf0"/><rect x="179.4" y="509.1" width="3.2" height="1.8" fill="#7a9cf4"/><rect x="179.4" y="563.6" width="3.2" height="1.8" fill="#5a8cf0"/><rect x="179.4" y="596.3" width="3.2" height="1.8" fill="#5a8cf0"/><rect x="179.4" y="592.8" width="3.2" height="1.8" fill="#5a8cf0"/><rect x="179.4" y="522.2" width="3.2" height="1.8" fill="#7a9cf4"/><rect x="179.4" y="593.5" width="3.2" height="1.8" fill="#4a7cf0"/><rect x="179.4" y="469.5" width="3.2" height="1.8" fill="#4a7cf0"/><rect x="179.4" y="550.4" width="3.2" height="1.8" fill="#7a9cf4"/><rect x="179.2" y="616.5" width="3.6" height="4.5" fill="#c8e850"/></g>
<rect x="257" y="620.2" width="84" height="2.8" fill="#30e8f0" opacity="0.9"/>
<rect x="270" y="620.6" width="62" height="2.0" fill="#38e8a0" opacity="0.9"/>
<g><rect x="318.0" y="623.2" width="4.3" height="1.6" fill="#2a4ae8"/><rect x="267.1" y="623.2" width="2.7" height="1.6" fill="#2a4ae8"/><rect x="275.4" y="623.2" width="2.8" height="1.6" fill="#2a4ae8"/><rect x="258.4" y="623.2" width="2.4" height="1.6" fill="#2a4ae8"/><rect x="293.6" y="623.2" width="3.3" height="1.6" fill="#2a4ae8"/><rect x="262.4" y="623.2" width="3.7" height="1.6" fill="#2a4ae8"/><rect x="344.5" y="623.2" width="3.7" height="1.6" fill="#2a4ae8"/><rect x="288.8" y="623.2" width="4.1" height="1.6" fill="#2a4ae8"/><rect x="296.5" y="623.2" width="2.5" height="1.6" fill="#2a4ae8"/><rect x="300.8" y="623.2" width="2.1" height="1.6" fill="#2a4ae8"/><rect x="319.2" y="623.2" width="2.5" height="1.6" fill="#2a4ae8"/><rect x="290.1" y="623.2" width="4.9" height="1.6" fill="#2a4ae8"/><rect x="327.8" y="623.2" width="4.5" height="1.6" fill="#2a4ae8"/><rect x="316.0" y="623.2" width="3.9" height="1.6" fill="#2a4ae8"/><rect x="322.0" y="623.2" width="4.9" height="1.6" fill="#2a4ae8"/><rect x="273.6" y="623.2" width="4.3" height="1.6" fill="#2a4ae8"/><rect x="283.6" y="623.2" width="2.8" height="1.6" fill="#2a4ae8"/><rect x="333.0" y="623.2" width="3.8" height="1.6" fill="#2a4ae8"/><rect x="335.7" y="623.2" width="4.6" height="1.6" fill="#2a4ae8"/><rect x="310.9" y="623.2" width="2.6" height="1.6" fill="#2a4ae8"/><rect x="256.4" y="623.2" width="3.6" height="1.6" fill="#2a4ae8"/><rect x="323.9" y="623.2" width="2.8" height="1.6" fill="#2a4ae8"/></g>
<g filter="url(#blur1)"><ellipse cx="514" cy="621" rx="25" ry="4.6" fill="#30d8f0"/><ellipse cx="514" cy="621" rx="19" ry="3.9" fill="#30e040"/><ellipse cx="514" cy="621" rx="10" ry="2.6" fill="#f0f000"/><ellipse cx="514" cy="621" rx="4" ry="1.5" fill="#e82000"/></g>
<line x1="443.4" y1="179" x2="443.4" y2="645.5" stroke="#ff00ff" stroke-width="3.2"/>
<line x1="180" y1="587.8" x2="648" y2="587.8" stroke="#ff00ff" stroke-width="3.4"/>
<line x1="1016.8" y1="177" x2="1016.8" y2="635.5" stroke="#ff00ff" stroke-width="3.2"/>
<line x1="758" y1="578.4" x2="1217.5" y2="578.4" stroke="#ff00ff" stroke-width="3.4"/>
<text transform="translate(183.00,205.80) scale(0.9011,1)" font-size="25.49" font-weight="normal" fill="#ff00ff" stroke="#ff00ff" stroke-width="0.8">8.56</text>
<text transform="translate(600.87,205.30) scale(0.9038,1)" font-size="23.69" font-weight="normal" fill="#ff00ff" stroke="#ff00ff" stroke-width="0.8">1.61</text>
<text transform="translate(186.30,645.50) scale(0.9642,1)" font-size="22.63" font-weight="normal" fill="#ff00ff" stroke="#ff00ff" stroke-width="0.8">26.1</text>
<text transform="translate(600.03,646.20) scale(0.9274,1)" font-size="24.78" font-weight="normal" fill="#ff00ff" stroke="#ff00ff" stroke-width="0.8">63.7</text>
<text transform="translate(761.66,202.70) scale(0.9231,1)" font-size="23.92" font-weight="normal" fill="#ff00ff" stroke="#ff00ff" stroke-width="0.8">35.5</text>
<text transform="translate(1171.28,203.70) scale(0.9448,1)" font-size="23.49" font-weight="normal" fill="#ff00ff" stroke="#ff00ff" stroke-width="0.8">2.83</text>
<text transform="translate(764.80,635.20) scale(0.9948,1)" font-size="22.09" font-weight="normal" fill="#ff00ff" stroke="#ff00ff" stroke-width="0.8">42.1</text>
<text transform="translate(1171.39,635.40) scale(0.9173,1)" font-size="24.06" font-weight="normal" fill="#ff00ff" stroke="#ff00ff" stroke-width="0.8">20.4</text>
<path d="M515,1340.8 L515,1059.5 Q515,1057.5 517,1057.5 L569,1057.5 Q571,1057.5 571,1059.5 L571,1340.8 Z" fill="#000"/>
<rect x="540.0" y="1041.3" width="3.6" height="17.200000000000045" fill="#000"/>
<rect x="528" y="1039.3999999999999" width="27.399999999999977" height="3.8" fill="#000"/>
<path d="M591,1340.8 L591,1104.8 Q591,1102.8 593,1102.8 L643.7,1102.8 Q645.7,1102.8 645.7,1104.8 L645.7,1340.8 Z" fill="#000"/>
<rect x="616.6" y="1080.3" width="3.6" height="23.5" fill="#000"/>
<rect x="605" y="1078.3999999999999" width="27" height="3.8" fill="#000"/>
<path d="M665.8,1340.8 L665.8,1135.5 Q665.8,1133.5 667.8,1133.5 L720,1133.5 Q722,1133.5 722,1135.5 L722,1340.8 Z" fill="#000"/>
<rect x="693.3000000000001" y="1115.4" width="3.6" height="19.09999999999991" fill="#000"/>
<rect x="679" y="1113.5" width="29.799999999999955" height="3.8" fill="#000"/>
<path d="M742.1,1340.8 L742.1,1135.5 Q742.1,1133.5 744.1,1133.5 L796.2,1133.5 Q798.2,1133.5 798.2,1135.5 L798.2,1340.8 Z" fill="#000"/>
<rect x="767.4000000000001" y="1111.4" width="3.6" height="23.09999999999991" fill="#000"/>
<rect x="755.5" y="1109.5" width="27.399999999999977" height="3.8" fill="#000"/>
<path d="M818.6,1340.8 L818.6,1170.4 Q818.6,1168.4 820.6,1168.4 L871,1168.4 Q873,1168.4 873,1170.4 L873,1340.8 Z" fill="#000"/>
<rect x="843.6" y="1146.7" width="3.6" height="22.700000000000045" fill="#000"/>
<rect x="832" y="1144.8" width="27.399999999999977" height="3.8" fill="#000"/>
<path d="M893.3,1340.8 L893.3,1209.9 Q893.3,1207.9 895.3,1207.9 L947.7,1207.9 Q949.7,1207.9 949.7,1209.9 L949.7,1340.8 Z" fill="#000"/>
<rect x="920.0" y="1193.4" width="3.6" height="15.5" fill="#000"/>
<rect x="907" y="1191.5" width="28.600000000000023" height="3.8" fill="#000"/>
<path d="M969.5,1340.8 L969.5,1225.7 Q969.5,1223.7 971.5,1223.7 L1023.8,1223.7 Q1025.8,1223.7 1025.8,1225.7 L1025.8,1340.8 Z" fill="#000"/>
<rect x="995.0" y="1207.1" width="3.6" height="17.600000000000136" fill="#000"/>
<rect x="983" y="1205.1999999999998" width="27.399999999999977" height="3.8" fill="#000"/>
<line x1="504" y1="987.4" x2="504" y2="1341.7" stroke="#000" stroke-width="2"/>
<line x1="495.5" y1="1340.8" x2="1035.5" y2="1340.8" stroke="#000" stroke-width="2"/>
<line x1="494" y1="1340.8" x2="504" y2="1340.8" stroke="#000" stroke-width="1.8"/>
<line x1="494" y1="1223.0" x2="504" y2="1223.0" stroke="#000" stroke-width="1.8"/>
<line x1="494" y1="1105.2" x2="504" y2="1105.2" stroke="#000" stroke-width="1.8"/>
<line x1="494" y1="987.4" x2="504" y2="987.4" stroke="#000" stroke-width="1.8"/>
<path d="M509,1893.1 L509,1743 Q509,1741 511,1741 L563,1741 Q565,1741 565,1743 L565,1893.1 Z" fill="#000"/>
<rect x="534.2" y="1732.6" width="3.6" height="9.400000000000091" fill="#000"/>
<rect x="522.9" y="1730.6999999999998" width="26.800000000000068" height="3.8" fill="#000"/>
<path d="M585.5,1893.1 L585.5,1703.5 Q585.5,1701.5 587.5,1701.5 L637.7,1701.5 Q639.7,1701.5 639.7,1703.5 L639.7,1893.1 Z" fill="#000"/>
<rect x="611.0" y="1676" width="3.6" height="26.5" fill="#000"/>
<rect x="599" y="1674.1" width="27.200000000000045" height="3.8" fill="#000"/>
<path d="M660.2,1893.1 L660.2,1701.8 Q660.2,1699.8 662.2,1699.8 L714.1,1699.8 Q716.1,1699.8 716.1,1701.8 L716.1,1893.1 Z" fill="#000"/>
<rect x="687.1" y="1681.7" width="3.6" height="19.09999999999991" fill="#000"/>
<rect x="673.3" y="1679.8" width="29.40000000000009" height="3.8" fill="#000"/>
<path d="M736.1,1893.1 L736.1,1669.1 Q736.1,1667.1 738.1,1667.1 L790.8,1667.1 Q792.8,1667.1 792.8,1669.1 L792.8,1893.1 Z" fill="#000"/>
<rect x="761.9000000000001" y="1646.3" width="3.6" height="21.799999999999955" fill="#000"/>
<rect x="749.8" y="1644.3999999999999" width="27.300000000000068" height="3.8" fill="#000"/>
<path d="M812.5,1893.1 L812.5,1656.8 Q812.5,1654.8 814.5,1654.8 L865.2,1654.8 Q867.2,1654.8 867.2,1656.8 L867.2,1893.1 Z" fill="#000"/>
<rect x="838.5" y="1629" width="3.6" height="26.799999999999955" fill="#000"/>
<rect x="826" y="1627.1" width="27.799999999999955" height="3.8" fill="#000"/>
<path d="M887.4,1893.1 L887.4,1639.3 Q887.4,1637.3 889.4,1637.3 L941.6,1637.3 Q943.6,1637.3 943.6,1639.3 L943.6,1893.1 Z" fill="#000"/>
<rect x="914.2" y="1619.4" width="3.6" height="18.899999999999864" fill="#000"/>
<rect x="901" y="1617.5" width="28.5" height="3.8" fill="#000"/>
<path d="M963.6,1893.1 L963.6,1621.4 Q963.6,1619.4 965.6,1619.4 L1018.3,1619.4 Q1020.3,1619.4 1020.3,1621.4 L1020.3,1893.1 Z" fill="#000"/>
<rect x="989.3000000000001" y="1589.8" width="3.6" height="30.600000000000136" fill="#000"/>
<rect x="977" y="1587.8999999999999" width="29.399999999999977" height="3.8" fill="#000"/>
<line x1="497.6" y1="1540.2" x2="497.6" y2="1894.0" stroke="#000" stroke-width="2"/>
<line x1="489.4" y1="1893.1" x2="1030.3" y2="1893.1" stroke="#000" stroke-width="2"/>
<line x1="487.6" y1="1893.1" x2="497.6" y2="1893.1" stroke="#000" stroke-width="1.8"/>
<line x1="487.6" y1="1822.5" x2="497.6" y2="1822.5" stroke="#000" stroke-width="1.8"/>
<line x1="487.6" y1="1751.9" x2="497.6" y2="1751.9" stroke="#000" stroke-width="1.8"/>
<line x1="487.6" y1="1681.4" x2="497.6" y2="1681.4" stroke="#000" stroke-width="1.8"/>
<line x1="487.6" y1="1610.8" x2="497.6" y2="1610.8" stroke="#000" stroke-width="1.8"/>
<line x1="487.6" y1="1540.2" x2="497.6" y2="1540.2" stroke="#000" stroke-width="1.8"/>
<line x1="515.5" y1="1177" x2="570.5" y2="1177" stroke="#303030" stroke-width="1"/>
<line x1="591.5" y1="1177" x2="645.2" y2="1177" stroke="#303030" stroke-width="1"/>
<line x1="666.3" y1="1177" x2="721.5" y2="1177" stroke="#303030" stroke-width="1"/>
<line x1="742.6" y1="1177" x2="797.7" y2="1177" stroke="#303030" stroke-width="1"/>
<line x1="819.1" y1="1177" x2="872.5" y2="1177" stroke="#303030" stroke-width="1"/>
<text transform="translate(384.38,904.10) scale(0.8399,1)" font-size="46.66" font-weight="bold" fill="#000" >B</text>
<text transform="translate(705.67,932.59) scale(1.1378,1)" font-size="28.77" font-weight="normal" fill="#000" >*</text><text transform="translate(719.79,933.31) scale(1.2209,1)" font-size="25.50" font-weight="normal" fill="#000" >p</text><text transform="translate(742.94,933.97) scale(1.0004,1)" font-size="27.57" font-weight="normal" fill="#000" >&lt;</text><text transform="translate(766.10,933.30) scale(1.0169,1)" font-size="27.64" font-weight="normal" fill="#000" >0.0001</text>
<path d="M555.8,960.8 L555.8,946.4 L950.8,946.4 L950.8,959.7" fill="none" stroke="#000" stroke-width="1.9" stroke-linejoin="round"/>
<line x1="517.2" y1="1009" x2="569.4" y2="1009" stroke="#000" stroke-width="2"/>
<line x1="836.2" y1="1106.5" x2="1010.4" y2="1108" stroke="url(#sigB)" stroke-width="2.1"/>
<text transform="translate(410.30,1367.88) rotate(-90) scale(0.9921,1)" font-size="30.52" font-weight="normal" fill="#000">% iNKT, CD4+ within iNKT cells</text>
<text transform="translate(464.71,995.90) scale(1.0069,1)" font-size="26.78" font-weight="bold" fill="#000" >60</text>
<text transform="translate(465.30,1113.70) scale(0.9864,1)" font-size="26.78" font-weight="bold" fill="#000" >40</text>
<text transform="translate(464.77,1231.50) scale(1.0050,1)" font-size="26.78" font-weight="bold" fill="#000" >20</text>
<text transform="translate(479.03,1349.30) scale(1.0560,1)" font-size="26.78" font-weight="bold" fill="#000" >0</text>
<text transform="translate(535.45,1365.00) scale(1.0222,1)" font-size="26.64" font-weight="bold" fill="#000" >0</text>
<text transform="translate(610.94,1365.00) scale(1.0098,1)" font-size="26.64" font-weight="bold" fill="#000" >2</text>
<text transform="translate(686.24,1365.00) scale(1.0360,1)" font-size="26.64" font-weight="bold" fill="#000" >7</text>
<text transform="translate(754.80,1365.00) scale(0.9853,1)" font-size="26.64" font-weight="bold" fill="#000" >14</text>
<text transform="translate(831.19,1365.00) scale(0.9825,1)" font-size="26.64" font-weight="bold" fill="#000" >28</text>
<text transform="translate(898.89,1365.00) scale(1.0042,1)" font-size="26.64" font-weight="bold" fill="#000" >180</text>
<text transform="translate(976.13,1365.00) scale(0.9712,1)" font-size="26.64" font-weight="bold" fill="#000" >365</text>
<text transform="translate(671.90,1402.10) scale(0.9930,1)" font-size="31.19" font-weight="normal" fill="#000" >days</text>
<text transform="translate(368.92,1480.60) scale(0.8358,1)" font-size="46.12" font-weight="bold" fill="#000" >C</text>
<text transform="translate(690.67,1504.89) scale(1.1378,1)" font-size="28.77" font-weight="normal" fill="#000" >*</text><text transform="translate(704.79,1505.61) scale(1.2209,1)" font-size="25.50" font-weight="normal" fill="#000" >p</text><text transform="translate(727.94,1506.27) scale(1.0004,1)" font-size="27.57" font-weight="normal" fill="#000" >&lt;</text><text transform="translate(751.10,1505.60) scale(1.0169,1)" font-size="27.64" font-weight="normal" fill="#000" >0.0001</text>
<path d="M543,1533 L543,1518.5 L1000,1518.5 L1000,1532.5" fill="none" stroke="#000" stroke-width="1.9" stroke-linejoin="round"/>
<line x1="517.3" y1="1690.3" x2="569.1" y2="1690.3" stroke="#000" stroke-width="2"/>
<line x1="564.9" y1="1737.1" x2="585" y2="1737.1" stroke="#000" stroke-width="2"/>
<line x1="966.8" y1="1548" x2="1012" y2="1550" stroke="#000" stroke-width="2"/>
<text transform="translate(416.60,1930.38) rotate(-90) scale(0.9818,1)" font-size="30.96" font-weight="normal" fill="#000">% iNKT, CD8+ within iNKT cells</text>
<text transform="translate(459.28,1548.70) scale(1.0012,1)" font-size="26.78" font-weight="bold" fill="#000" >50</text>
<text transform="translate(459.70,1619.28) scale(0.9864,1)" font-size="26.78" font-weight="bold" fill="#000" >40</text>
<text transform="translate(459.49,1689.86) scale(0.9937,1)" font-size="26.78" font-weight="bold" fill="#000" >30</text>
<text transform="translate(459.17,1760.44) scale(1.0050,1)" font-size="26.78" font-weight="bold" fill="#000" >20</text>
<text transform="translate(458.36,1831.02) scale(1.0332,1)" font-size="26.78" font-weight="bold" fill="#000" >10</text>
<text transform="translate(473.43,1901.60) scale(1.0560,1)" font-size="26.78" font-weight="bold" fill="#000" >0</text>
<text transform="translate(529.45,1916.90) scale(1.0447,1)" font-size="26.07" font-weight="bold" fill="#000" >0</text>
<text transform="translate(605.19,1916.90) scale(1.0319,1)" font-size="26.07" font-weight="bold" fill="#000" >2</text>
<text transform="translate(680.49,1916.90) scale(1.0588,1)" font-size="26.07" font-weight="bold" fill="#000" >7</text>
<text transform="translate(749.10,1916.90) scale(1.0069,1)" font-size="26.07" font-weight="bold" fill="#000" >14</text>
<text transform="translate(825.24,1916.90) scale(1.0041,1)" font-size="26.07" font-weight="bold" fill="#000" >28</text>
<text transform="translate(892.89,1916.90) scale(1.0263,1)" font-size="26.07" font-weight="bold" fill="#000" >180</text>
<text transform="translate(970.43,1916.90) scale(0.9925,1)" font-size="26.07" font-weight="bold" fill="#000" >365</text>
<text transform="translate(672.00,1953.70) scale(1.0438,1)" font-size="29.67" font-weight="normal" fill="#000" >days</text>
</svg>
</body></html>
